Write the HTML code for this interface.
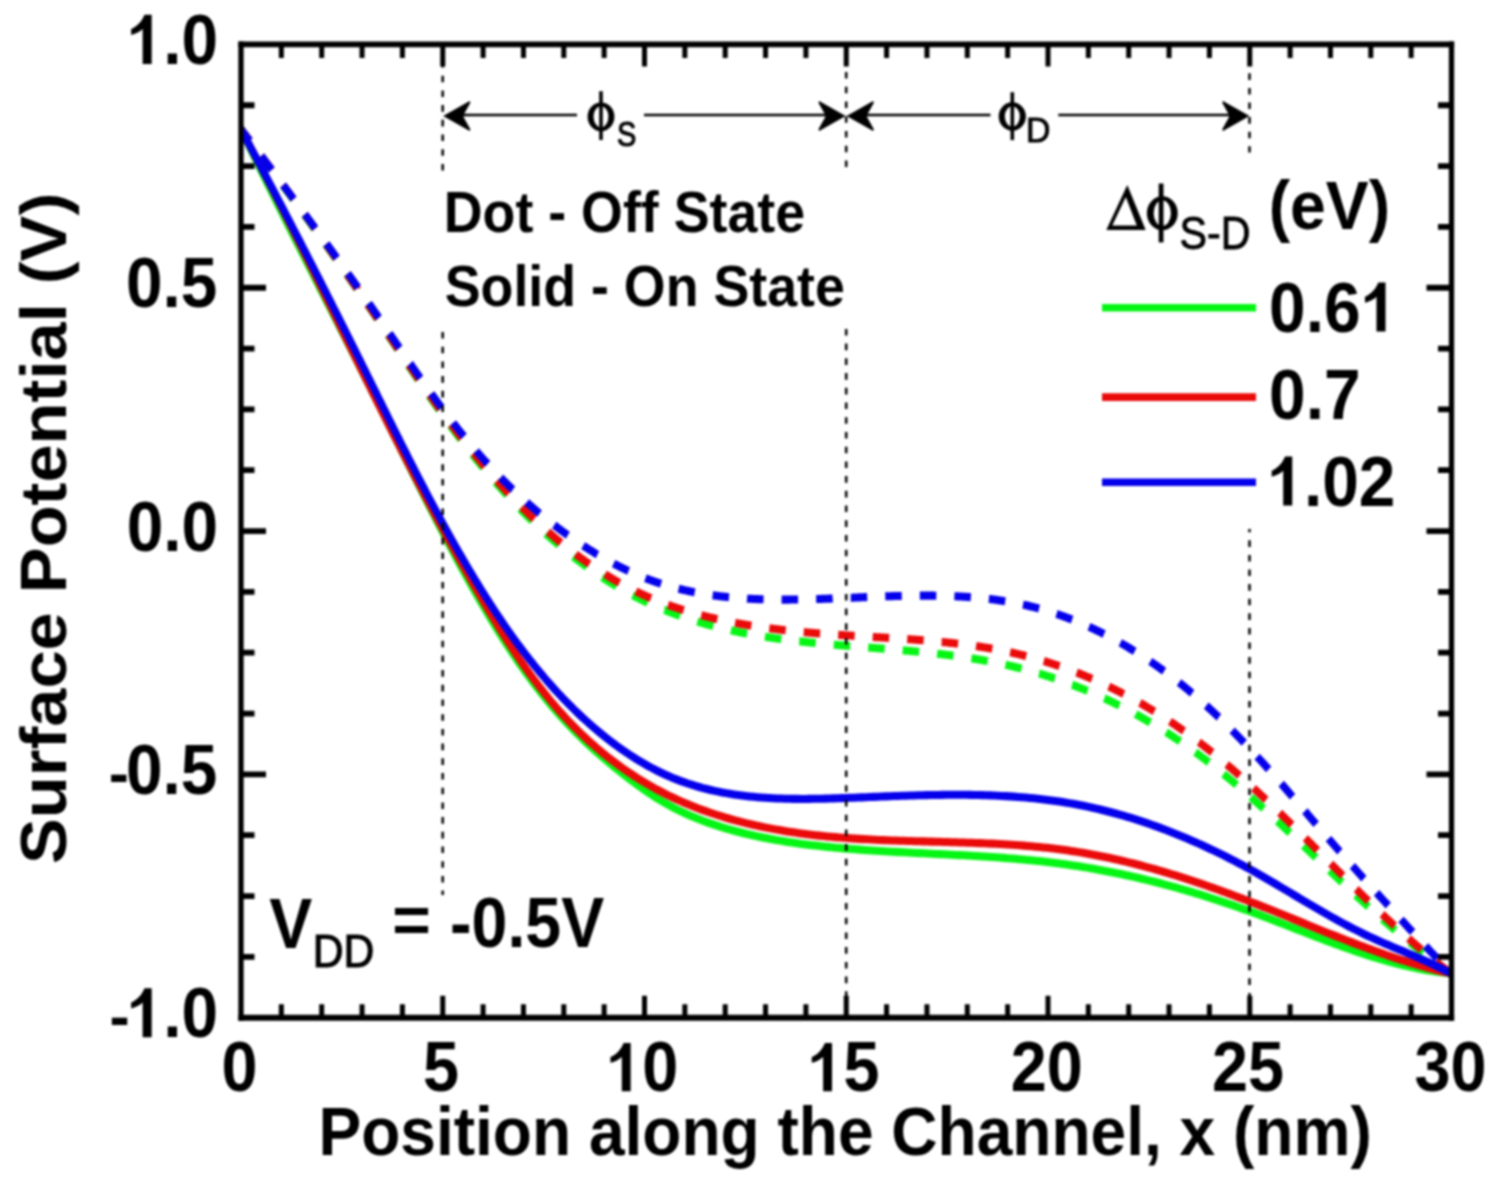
<!DOCTYPE html><html><head><meta charset="utf-8"><style>html,body{margin:0;padding:0;background:#fff;width:1500px;height:1185px;overflow:hidden}svg{display:block}#w{filter:blur(1px)}text{font-family:"Liberation Sans",sans-serif;font-weight:bold;fill:#000}</style></head><body>
<div id="w"><svg width="1500" height="1185" viewBox="0 0 1500 1185">
<rect width="1500" height="1185" fill="#fff"/>
<defs><clipPath id="pc"><rect x="241.00" y="40.73" width="1210.50" height="892.94"/></clipPath></defs>
<g transform="scale(1,1.090)" clip-path="url(#pc)">
<path d="M241.00,118.63 L241.60,119.36 L242.20,120.09 L242.80,120.82 L243.40,121.56 L244.00,122.29 L244.60,123.02 L245.21,123.76 L245.81,124.49 L246.41,125.22 L247.01,125.96 L247.61,126.69 L248.21,127.42 L248.81,128.16 L249.41,128.89 L249.67,129.21 M261.09,143.21 L261.39,143.59 L261.99,144.32 L262.59,145.06 L263.19,145.80 L263.78,146.53 L264.38,147.27 L264.98,148.01 L265.58,148.74 L266.17,149.48 L266.77,150.22 L267.37,150.95 L267.97,151.69 L268.56,152.43 L269.16,153.17 L269.76,153.90 L270.35,154.64 L270.95,155.38 L271.47,156.03 M282.80,170.11 L282.84,170.16 L283.44,170.90 L284.03,171.64 L284.62,172.38 L285.22,173.12 L285.81,173.86 L286.40,174.60 L286.99,175.34 L287.59,176.08 L288.18,176.82 L288.77,177.56 L289.36,178.30 L289.95,179.04 L290.55,179.79 L291.14,180.53 L291.73,181.27 L292.32,182.01 L292.91,182.75 L293.10,183.00 M304.33,197.16 L304.69,197.61 L305.28,198.36 L305.87,199.10 L306.45,199.85 L307.04,200.59 L307.63,201.34 L308.21,202.08 L308.80,202.83 L309.38,203.57 L309.97,204.32 L310.56,205.06 L311.14,205.81 L311.73,206.55 L312.31,207.30 L312.90,208.04 L313.48,208.79 L314.07,209.54 L314.53,210.13 M325.64,224.38 L325.71,224.48 L326.29,225.23 L326.87,225.98 L327.45,226.73 L328.03,227.48 L328.61,228.23 L329.19,228.98 L329.77,229.73 L330.35,230.48 L330.93,231.22 L331.51,231.97 L332.08,232.72 L332.66,233.47 L333.24,234.22 L333.82,234.97 L334.39,235.72 L334.97,236.48 L335.55,237.23 L335.72,237.45 M346.69,251.80 L347.03,252.26 L347.60,253.02 L348.18,253.77 L348.75,254.52 L349.32,255.28 L349.89,256.03 L350.46,256.78 L351.03,257.54 L351.60,258.29 L352.17,259.05 L352.74,259.80 L353.31,260.55 L353.88,261.31 L354.45,262.06 L355.02,262.82 L355.58,263.57 L356.15,264.33 L356.63,264.97 M367.45,279.45 L367.46,279.46 L368.02,280.22 L368.58,280.97 L369.14,281.73 L369.71,282.49 L370.27,283.25 L370.83,284.01 L371.39,284.76 L371.95,285.52 L372.51,286.28 L373.07,287.04 L373.63,287.80 L374.19,288.56 L374.75,289.32 L375.31,290.08 L375.86,290.84 L376.42,291.60 L376.98,292.36 L377.25,292.72 M387.91,307.31 L388.11,307.57 L388.66,308.33 L389.22,309.09 L389.77,309.85 L390.33,310.61 L390.88,311.38 L391.43,312.14 L391.99,312.90 L392.54,313.66 L393.10,314.42 L393.65,315.18 L394.21,315.94 L394.76,316.70 L395.32,317.46 L395.87,318.22 L396.43,318.99 L396.98,319.75 L397.54,320.51 L397.63,320.64 M408.30,335.23 L408.65,335.71 L409.21,336.47 L409.77,337.23 L410.33,337.98 L410.88,338.74 L411.44,339.50 L412.00,340.26 L412.56,341.02 L413.12,341.78 L413.68,342.53 L414.24,343.29 L414.80,344.05 L415.36,344.81 L415.92,345.56 L416.48,346.32 L417.04,347.08 L417.60,347.83 L418.10,348.50 M428.94,362.96 L429.48,363.67 L430.05,364.42 L430.62,365.17 L431.19,365.92 L431.76,366.67 L432.33,367.42 L432.91,368.17 L433.48,368.92 L434.05,369.67 L434.63,370.42 L435.20,371.17 L435.78,371.92 L436.35,372.67 L436.93,373.41 L437.51,374.16 L438.08,374.91 L438.66,375.66 L438.97,376.06 M450.16,390.25 L450.37,390.51 L450.96,391.25 L451.55,391.99 L452.15,392.73 L452.74,393.46 L453.34,394.20 L453.93,394.94 L454.53,395.67 L455.13,396.41 L455.73,397.14 L456.33,397.88 L456.93,398.61 L457.53,399.35 L458.13,400.08 L458.73,400.81 L459.34,401.54 L459.94,402.28 L460.55,403.01 L460.58,403.04 M472.25,416.83 L472.85,417.53 L473.48,418.25 L474.10,418.96 L474.73,419.68 L475.36,420.40 L475.99,421.12 L476.62,421.84 L477.25,422.55 L477.89,423.27 L478.52,423.99 L479.16,424.70 L479.79,425.41 L480.43,426.13 L481.07,426.84 L481.71,427.55 L482.35,428.26 L482.99,428.98 L483.19,429.19 M495.48,442.43 L496.06,443.05 L496.73,443.74 L497.39,444.44 L498.06,445.13 L498.73,445.82 L499.40,446.52 L500.07,447.21 L500.75,447.90 L501.42,448.59 L502.09,449.28 L502.77,449.96 L503.45,450.65 L504.12,451.34 L504.80,452.02 L505.48,452.71 L506.16,453.39 L506.85,454.07 L507.01,454.23 M519.99,466.80 L520.03,466.84 L520.74,467.51 L521.45,468.17 L522.15,468.83 L522.86,469.48 L523.57,470.14 L524.28,470.80 L525.00,471.45 L525.71,472.11 L526.43,472.76 L527.14,473.41 L527.86,474.06 L528.58,474.71 L529.30,475.36 L530.02,476.00 L530.74,476.65 L531.46,477.29 L532.18,477.93 M545.90,489.68 L546.17,489.91 L546.92,490.52 L547.66,491.14 L548.41,491.75 L549.17,492.36 L549.92,492.97 L550.67,493.58 L551.43,494.19 L552.18,494.80 L552.94,495.40 L553.70,496.01 L554.46,496.61 L555.22,497.21 L555.98,497.81 L556.74,498.41 L557.51,499.00 L558.27,499.60 L558.78,499.99 M573.29,510.77 L573.83,511.15 L574.62,511.71 L575.41,512.27 L576.21,512.83 L577.00,513.39 L577.80,513.94 L578.59,514.49 L579.39,515.04 L580.19,515.59 L580.99,516.14 L581.79,516.68 L582.59,517.23 L583.40,517.77 L584.20,518.31 L585.01,518.85 L585.82,519.38 L586.63,519.92 L586.90,520.09 M602.20,529.70 L602.22,529.71 L603.06,530.21 L603.89,530.70 L604.73,531.20 L605.57,531.69 L606.40,532.17 L607.24,532.66 L608.08,533.15 L608.92,533.63 L609.77,534.11 L610.61,534.59 L611.46,535.06 L612.30,535.54 L613.15,536.01 L614.00,536.48 L614.85,536.95 L615.70,537.41 L616.54,537.86 M632.62,546.09 L633.00,546.27 L633.88,546.69 L634.76,547.11 L635.64,547.52 L636.52,547.94 L637.40,548.35 L638.29,548.76 L639.17,549.16 L640.06,549.56 L640.95,549.97 L641.84,550.36 L642.73,550.76 L643.62,551.16 L644.51,551.55 L645.41,551.94 L646.30,552.32 L647.20,552.71 L647.65,552.90 M664.44,559.58 L664.46,559.58 L665.38,559.92 L666.30,560.26 L667.22,560.59 L668.15,560.93 L669.07,561.26 L669.99,561.59 L670.92,561.91 L671.85,562.24 L672.78,562.56 L673.70,562.88 L674.63,563.19 L675.57,563.51 L676.50,563.82 L677.43,564.13 L678.36,564.44 L679.30,564.75 L680.03,564.99 M697.33,570.20 L698.19,570.44 L699.14,570.71 L700.10,570.97 L701.05,571.23 L702.01,571.48 L702.97,571.74 L703.92,571.99 L704.88,572.24 L705.84,572.49 L706.80,572.74 L707.76,572.99 L708.72,573.23 L709.68,573.47 L710.65,573.71 L711.61,573.95 L712.57,574.18 L713.29,574.36 M730.93,578.29 L731.01,578.31 L731.99,578.50 L732.96,578.70 L733.94,578.90 L734.92,579.09 L735.90,579.28 L736.87,579.47 L737.85,579.66 L738.83,579.84 L739.81,580.03 L740.79,580.21 L741.78,580.39 L742.76,580.57 L743.74,580.75 L744.72,580.92 L745.71,581.10 L746.69,581.27 L747.14,581.35 M764.99,584.17 L765.45,584.24 L766.44,584.38 L767.44,584.52 L768.43,584.66 L769.42,584.80 L770.41,584.93 L771.41,585.07 L772.40,585.20 L773.39,585.33 L774.39,585.46 L775.38,585.59 L776.37,585.72 L777.37,585.85 L778.36,585.97 L779.36,586.10 L780.35,586.22 L781.35,586.34 M799.30,588.36 L799.31,588.36 L800.31,588.46 L801.31,588.56 L802.31,588.67 L803.32,588.77 L804.32,588.86 L805.32,588.96 L806.32,589.06 L807.32,589.16 L808.32,589.25 L809.32,589.35 L810.32,589.44 L811.32,589.54 L812.33,589.63 L813.33,589.72 L814.33,589.81 L815.33,589.90 L815.73,589.94 M833.73,591.46 L834.38,591.51 L835.39,591.59 L836.39,591.67 L837.39,591.75 L838.40,591.83 L839.40,591.91 L840.41,591.98 L841.41,592.06 L842.41,592.14 L843.42,592.22 L844.42,592.29 L845.42,592.37 L846.43,592.44 L847.43,592.52 L848.44,592.59 L849.44,592.67 L850.19,592.72 M868.21,594.04 L868.51,594.06 L869.52,594.13 L870.52,594.21 L871.52,594.28 L872.53,594.35 L873.53,594.42 L874.54,594.50 L875.54,594.57 L876.54,594.64 L877.55,594.71 L878.55,594.79 L879.55,594.86 L880.55,594.93 L881.56,595.01 L882.56,595.08 L883.56,595.16 L884.57,595.23 L884.66,595.24 M902.68,596.62 L903.60,596.70 L904.60,596.78 L905.60,596.86 L906.60,596.94 L907.60,597.02 L908.60,597.11 L909.60,597.19 L910.60,597.27 L911.60,597.36 L912.60,597.44 L913.60,597.53 L914.59,597.62 L915.59,597.70 L916.59,597.79 L917.59,597.88 L918.59,597.97 L919.12,598.02 M937.11,599.75 L937.52,599.80 L938.51,599.90 L939.51,600.01 L940.50,600.11 L941.49,600.22 L942.49,600.33 L943.48,600.44 L944.47,600.55 L945.46,600.66 L946.46,600.77 L947.45,600.88 L948.44,601.00 L949.43,601.11 L950.42,601.23 L951.41,601.35 L952.40,601.47 L953.39,601.59 L953.50,601.60 M971.42,603.98 L972.16,604.09 L973.14,604.23 L974.12,604.38 L975.11,604.52 L976.09,604.67 L977.07,604.82 L978.06,604.97 L979.04,605.13 L980.02,605.28 L981.00,605.44 L981.98,605.59 L982.96,605.75 L983.95,605.91 L984.93,606.07 L985.91,606.24 L986.89,606.40 L987.72,606.54 M1005.48,609.86 L1006.39,610.04 L1007.36,610.24 L1008.34,610.44 L1009.31,610.65 L1010.28,610.85 L1011.25,611.06 L1012.21,611.27 L1013.18,611.48 L1014.15,611.70 L1015.12,611.91 L1016.09,612.13 L1017.05,612.35 L1018.02,612.57 L1018.98,612.79 L1019.95,613.02 L1020.91,613.24 L1021.59,613.40 M1039.09,617.90 L1039.16,617.91 L1040.11,618.18 L1041.06,618.44 L1042.02,618.71 L1042.97,618.98 L1043.92,619.25 L1044.88,619.53 L1045.83,619.80 L1046.78,620.08 L1047.73,620.36 L1048.68,620.64 L1049.63,620.92 L1050.58,621.21 L1051.52,621.50 L1052.47,621.78 L1053.42,622.07 L1054.36,622.37 L1054.93,622.54 M1072.08,628.21 L1072.22,628.25 L1073.16,628.58 L1074.09,628.91 L1075.02,629.24 L1075.95,629.57 L1076.88,629.91 L1077.81,630.25 L1078.74,630.58 L1079.67,630.92 L1080.60,631.26 L1081.53,631.61 L1082.45,631.95 L1083.38,632.30 L1084.31,632.65 L1085.23,633.00 L1086.15,633.35 L1087.08,633.70 L1087.57,633.89 M1104.32,640.67 L1104.47,640.73 L1105.38,641.12 L1106.28,641.51 L1107.19,641.90 L1108.09,642.29 L1109.00,642.68 L1109.90,643.08 L1110.80,643.47 L1111.71,643.87 L1112.61,644.27 L1113.51,644.67 L1114.41,645.07 L1115.30,645.48 L1116.20,645.89 L1117.10,646.29 L1117.99,646.70 L1118.89,647.11 L1119.41,647.35 M1135.69,655.20 L1135.72,655.22 L1136.60,655.66 L1137.48,656.10 L1138.35,656.55 L1139.23,656.99 L1140.10,657.44 L1140.97,657.89 L1141.84,658.34 L1142.71,658.79 L1143.58,659.25 L1144.45,659.70 L1145.32,660.16 L1146.19,660.62 L1147.05,661.08 L1147.92,661.54 L1148.78,662.00 L1149.64,662.47 L1150.31,662.83 M1166.06,671.70 L1166.68,672.06 L1167.52,672.55 L1168.36,673.05 L1169.19,673.55 L1170.03,674.05 L1170.87,674.55 L1171.70,675.05 L1172.54,675.55 L1173.37,676.06 L1174.20,676.56 L1175.03,677.07 L1175.86,677.58 L1176.69,678.09 L1177.52,678.60 L1178.35,679.11 L1179.17,679.62 L1180.00,680.14 L1180.17,680.25 M1195.32,690.09 L1195.46,690.18 L1196.26,690.72 L1197.07,691.26 L1197.87,691.80 L1198.67,692.35 L1199.47,692.89 L1200.27,693.44 L1201.07,693.99 L1201.87,694.54 L1202.66,695.09 L1203.46,695.64 L1204.25,696.19 L1205.05,696.74 L1205.84,697.30 L1206.63,697.85 L1207.42,698.41 L1208.21,698.97 L1208.91,699.46 M1223.52,710.09 L1223.85,710.34 L1224.62,710.91 L1225.39,711.49 L1226.17,712.07 L1226.94,712.66 L1227.71,713.24 L1228.48,713.82 L1229.25,714.40 L1230.02,714.99 L1230.78,715.58 L1231.55,716.16 L1232.32,716.75 L1233.08,717.34 L1233.85,717.93 L1234.61,718.52 L1235.38,719.11 L1236.14,719.70 L1236.64,720.09 M1250.80,731.31 L1251.27,731.69 L1252.02,732.30 L1252.77,732.91 L1253.52,733.52 L1254.27,734.12 L1255.02,734.73 L1255.77,735.34 L1256.51,735.96 L1257.26,736.57 L1258.01,737.18 L1258.75,737.79 L1259.50,738.40 L1260.25,739.02 L1260.99,739.63 L1261.73,740.25 L1262.48,740.86 L1263.22,741.48 L1263.57,741.77 M1277.40,753.39 L1278.01,753.90 L1278.74,754.53 L1279.48,755.16 L1280.21,755.78 L1280.95,756.41 L1281.68,757.04 L1282.42,757.66 L1283.15,758.29 L1283.88,758.92 L1284.62,759.55 L1285.35,760.18 L1286.08,760.81 L1286.82,761.44 L1287.55,762.07 L1288.28,762.70 L1289.01,763.33 L1289.74,763.96 L1289.93,764.12 M1303.58,775.96 L1303.61,775.99 L1304.34,776.62 L1305.07,777.26 L1305.79,777.89 L1306.52,778.53 L1307.25,779.16 L1307.98,779.80 L1308.70,780.43 L1309.43,781.07 L1310.16,781.71 L1310.89,782.34 L1311.62,782.98 L1312.34,783.61 L1313.07,784.25 L1313.80,784.88 L1314.53,785.52 L1315.25,786.16 L1315.98,786.79 L1316.01,786.82 M1329.62,798.70 L1329.81,798.87 L1330.54,799.50 L1331.27,800.14 L1331.99,800.77 L1332.72,801.41 L1333.45,802.04 L1334.18,802.67 L1334.91,803.31 L1335.64,803.94 L1336.37,804.58 L1337.10,805.21 L1337.83,805.84 L1338.56,806.47 L1339.29,807.11 L1340.02,807.74 L1340.75,808.37 L1341.48,809.00 L1342.08,809.52 M1355.80,821.28 L1356.15,821.57 L1356.89,822.20 L1357.62,822.82 L1358.36,823.45 L1359.10,824.07 L1359.83,824.69 L1360.57,825.32 L1361.31,825.94 L1362.05,826.56 L1362.79,827.18 L1363.53,827.80 L1364.27,828.42 L1365.01,829.04 L1365.75,829.66 L1366.49,830.28 L1367.23,830.90 L1367.97,831.52 L1368.43,831.90 M1382.41,843.35 L1382.91,843.76 L1383.66,844.36 L1384.41,844.97 L1385.17,845.57 L1385.92,846.18 L1386.67,846.78 L1387.43,847.38 L1388.18,847.98 L1388.94,848.58 L1389.70,849.18 L1390.45,849.78 L1391.21,850.38 L1391.97,850.98 L1392.73,851.57 L1393.49,852.17 L1394.25,852.77 L1395.01,853.36 L1395.33,853.61 M1409.69,864.57 L1410.37,865.08 L1411.14,865.65 L1411.92,866.23 L1412.69,866.80 L1413.47,867.38 L1414.25,867.95 L1415.03,868.52 L1415.81,869.09 L1416.59,869.66 L1417.37,870.23 L1418.15,870.80 L1418.94,871.36 L1419.72,871.93 L1420.51,872.49 L1421.29,873.06 L1422.08,873.62 L1422.87,874.18 L1423.03,874.29 M1437.89,884.57 L1437.99,884.64 L1438.80,885.18 L1439.61,885.72 L1440.41,886.25 L1441.22,886.79 L1442.03,887.32 L1442.84,887.86 L1443.65,888.39 L1444.47,888.92 L1445.28,889.45 L1446.09,889.97 L1446.91,890.50 L1447.72,891.03 L1448.54,891.55 L1449.36,892.07 L1450.18,892.59 L1451.00,893.11" fill="none" stroke="#05f514" stroke-width="7.4" stroke-linejoin="round"/>
<path d="M240.99,118.63 L241.61,119.36 L242.22,120.08 L242.84,120.81 L243.45,121.54 L244.07,122.27 L244.68,123.00 L245.29,123.73 L245.91,124.46 L246.52,125.19 L247.13,125.92 L247.75,126.65 L248.36,127.38 L248.97,128.11 L249.58,128.84 L249.80,129.10 M261.34,143.00 L261.74,143.48 L262.35,144.21 L262.95,144.95 L263.56,145.68 L264.16,146.41 L264.77,147.15 L265.37,147.88 L265.97,148.62 L266.58,149.35 L267.18,150.08 L267.78,150.82 L268.38,151.55 L268.98,152.29 L269.59,153.02 L270.19,153.76 L270.79,154.49 L271.39,155.23 L271.81,155.75 M283.20,169.78 L283.34,169.96 L283.94,170.70 L284.53,171.44 L285.13,172.18 L285.72,172.91 L286.32,173.65 L286.91,174.39 L287.50,175.13 L288.10,175.87 L288.69,176.61 L289.28,177.35 L289.87,178.09 L290.46,178.83 L291.06,179.57 L291.65,180.31 L292.24,181.05 L292.83,181.79 L293.42,182.53 L293.52,182.65 M304.75,196.81 L305.18,197.35 L305.76,198.10 L306.35,198.84 L306.93,199.58 L307.52,200.33 L308.10,201.07 L308.69,201.81 L309.27,202.56 L309.85,203.30 L310.44,204.04 L311.02,204.79 L311.60,205.53 L312.19,206.28 L312.77,207.02 L313.35,207.77 L313.93,208.51 L314.51,209.26 L314.93,209.79 M326.01,224.07 L326.10,224.18 L326.67,224.92 L327.25,225.67 L327.82,226.42 L328.40,227.17 L328.98,227.91 L329.55,228.66 L330.13,229.41 L330.70,230.16 L331.28,230.91 L331.85,231.65 L332.43,232.40 L333.00,233.15 L333.57,233.90 L334.15,234.65 L334.72,235.40 L335.30,236.15 L335.87,236.90 L336.06,237.15 M347.00,251.54 L347.29,251.91 L347.86,252.66 L348.42,253.41 L348.99,254.17 L349.56,254.92 L350.13,255.67 L350.70,256.42 L351.26,257.18 L351.83,257.93 L352.40,258.68 L352.96,259.44 L353.53,260.19 L354.10,260.94 L354.66,261.70 L355.23,262.45 L355.80,263.20 L356.36,263.96 L356.93,264.71 L356.93,264.72 M367.74,279.20 L368.20,279.81 L368.76,280.57 L369.32,281.33 L369.88,282.08 L370.44,282.84 L371.00,283.60 L371.56,284.35 L372.12,285.11 L372.69,285.87 L373.25,286.63 L373.81,287.38 L374.37,288.14 L374.92,288.90 L375.48,289.66 L376.04,290.41 L376.60,291.17 L377.16,291.93 L377.55,292.46 M388.26,307.02 L388.33,307.10 L388.89,307.86 L389.44,308.62 L390.00,309.38 L390.56,310.14 L391.12,310.90 L391.68,311.66 L392.24,312.42 L392.79,313.18 L393.35,313.94 L393.91,314.69 L394.47,315.45 L395.03,316.21 L395.59,316.97 L396.15,317.73 L396.71,318.49 L397.26,319.25 L397.82,320.01 L398.04,320.30 M408.80,334.82 L409.05,335.16 L409.61,335.92 L410.18,336.67 L410.74,337.43 L411.31,338.18 L411.87,338.94 L412.44,339.70 L413.00,340.45 L413.57,341.21 L414.13,341.96 L414.70,342.72 L415.27,343.47 L415.83,344.23 L416.40,344.98 L416.97,345.74 L417.54,346.49 L418.11,347.24 L418.68,348.00 L418.70,348.03 M429.66,362.39 L430.15,363.02 L430.73,363.77 L431.31,364.52 L431.89,365.27 L432.47,366.01 L433.05,366.76 L433.63,367.51 L434.21,368.25 L434.79,369.00 L435.38,369.75 L435.96,370.49 L436.55,371.24 L437.13,371.98 L437.72,372.73 L438.30,373.47 L438.89,374.21 L439.48,374.96 L439.82,375.39 M451.15,389.47 L451.38,389.75 L451.98,390.48 L452.58,391.22 L453.19,391.95 L453.79,392.69 L454.40,393.42 L455.00,394.15 L455.61,394.89 L456.22,395.62 L456.83,396.35 L457.44,397.08 L458.05,397.81 L458.66,398.54 L459.27,399.27 L459.89,400.00 L460.50,400.73 L461.12,401.46 L461.70,402.15 M473.53,415.82 L473.62,415.92 L474.25,416.63 L474.89,417.35 L475.53,418.07 L476.16,418.78 L476.80,419.50 L477.45,420.21 L478.09,420.92 L478.73,421.64 L479.37,422.35 L480.02,423.06 L480.66,423.77 L481.31,424.48 L481.96,425.19 L482.61,425.90 L483.26,426.61 L483.91,427.32 L484.56,428.02 L484.59,428.05 M497.03,441.16 L497.18,441.32 L497.85,442.01 L498.53,442.70 L499.21,443.39 L499.89,444.08 L500.57,444.77 L501.25,445.46 L501.93,446.14 L502.61,446.83 L503.29,447.51 L503.98,448.20 L504.67,448.88 L505.35,449.56 L506.04,450.24 L506.73,450.92 L507.42,451.60 L508.11,452.28 L508.69,452.84 M521.81,465.26 L522.19,465.61 L522.91,466.27 L523.62,466.92 L524.34,467.58 L525.06,468.23 L525.78,468.88 L526.50,469.53 L527.22,470.17 L527.95,470.82 L528.67,471.46 L529.40,472.11 L530.13,472.75 L530.85,473.39 L531.58,474.03 L532.31,474.67 L533.05,475.31 L533.78,475.94 L534.12,476.24 M547.99,487.82 L548.68,488.37 L549.44,488.98 L550.19,489.58 L550.95,490.19 L551.71,490.79 L552.48,491.39 L553.24,491.99 L554.00,492.58 L554.77,493.18 L555.54,493.77 L556.30,494.36 L557.07,494.95 L557.84,495.54 L558.61,496.13 L559.39,496.72 L560.16,497.30 L560.93,497.88 L561.02,497.95 M575.69,508.49 L575.88,508.62 L576.67,509.17 L577.47,509.71 L578.27,510.26 L579.08,510.80 L579.88,511.34 L580.68,511.88 L581.49,512.41 L582.30,512.95 L583.10,513.48 L583.91,514.01 L584.72,514.54 L585.53,515.06 L586.35,515.59 L587.16,516.11 L587.97,516.63 L588.79,517.15 L589.47,517.58 M604.96,526.87 L605.36,527.09 L606.20,527.57 L607.05,528.04 L607.89,528.51 L608.73,528.98 L609.58,529.45 L610.43,529.91 L611.28,530.37 L612.13,530.83 L612.98,531.29 L613.83,531.75 L614.68,532.20 L615.54,532.65 L616.39,533.10 L617.25,533.54 L618.11,533.99 L618.97,534.43 L619.49,534.69 M635.79,542.48 L636.41,542.76 L637.29,543.15 L638.18,543.54 L639.07,543.92 L639.96,544.31 L640.85,544.69 L641.74,545.07 L642.63,545.44 L643.52,545.82 L644.42,546.19 L645.31,546.56 L646.21,546.92 L647.11,547.28 L648.01,547.64 L648.91,548.00 L649.81,548.36 L650.71,548.71 L651.02,548.83 M668.02,554.94 L668.09,554.96 L669.02,555.26 L669.94,555.57 L670.87,555.87 L671.80,556.17 L672.73,556.46 L673.66,556.76 L674.59,557.05 L675.52,557.34 L676.46,557.63 L677.39,557.91 L678.33,558.19 L679.26,558.48 L680.20,558.75 L681.14,559.03 L682.08,559.30 L683.02,559.58 L683.79,559.80 M701.26,564.41 L702.01,564.59 L702.97,564.82 L703.93,565.05 L704.89,565.27 L705.85,565.50 L706.82,565.72 L707.78,565.94 L708.74,566.16 L709.71,566.37 L710.67,566.59 L711.64,566.80 L712.60,567.01 L713.57,567.22 L714.54,567.43 L715.51,567.63 L716.48,567.84 L717.36,568.02 M735.11,571.40 L736.01,571.55 L736.99,571.72 L737.98,571.89 L738.96,572.05 L739.94,572.22 L740.93,572.38 L741.92,572.54 L742.90,572.70 L743.89,572.86 L744.88,573.01 L745.86,573.17 L746.85,573.32 L747.84,573.47 L748.83,573.62 L749.82,573.77 L750.81,573.92 L751.40,574.01 M769.31,576.41 L769.72,576.46 L770.72,576.58 L771.72,576.70 L772.72,576.82 L773.72,576.94 L774.72,577.06 L775.72,577.17 L776.72,577.28 L777.72,577.40 L778.72,577.51 L779.73,577.62 L780.73,577.73 L781.73,577.84 L782.74,577.94 L783.74,578.05 L784.74,578.15 L785.71,578.25 M803.70,579.93 L803.85,579.94 L804.86,580.03 L805.87,580.11 L806.88,580.20 L807.88,580.28 L808.89,580.36 L809.90,580.44 L810.91,580.52 L811.92,580.60 L812.92,580.68 L813.93,580.75 L814.94,580.83 L815.95,580.91 L816.96,580.98 L817.97,581.05 L818.98,581.13 L819.99,581.20 L820.15,581.21 M838.18,582.40 L839.17,582.46 L840.18,582.52 L841.19,582.58 L842.20,582.64 L843.20,582.70 L844.21,582.76 L845.22,582.82 L846.23,582.88 L847.24,582.94 L848.25,583.00 L849.26,583.06 L850.27,583.11 L851.28,583.17 L852.29,583.23 L853.30,583.28 L854.31,583.34 L854.65,583.36 M872.70,584.34 L873.48,584.39 L874.49,584.44 L875.50,584.50 L876.51,584.55 L877.52,584.61 L878.52,584.66 L879.53,584.72 L880.54,584.77 L881.55,584.83 L882.55,584.88 L883.56,584.94 L884.57,584.99 L885.58,585.05 L886.58,585.10 L887.59,585.16 L888.60,585.22 L889.17,585.25 M907.21,586.33 L907.70,586.36 L908.70,586.42 L909.71,586.49 L910.71,586.55 L911.71,586.62 L912.72,586.69 L913.72,586.75 L914.72,586.82 L915.72,586.89 L916.72,586.96 L917.73,587.03 L918.73,587.10 L919.73,587.17 L920.73,587.24 L921.73,587.32 L922.73,587.39 L923.67,587.46 M941.68,588.93 L941.70,588.93 L942.70,589.02 L943.69,589.12 L944.69,589.21 L945.68,589.30 L946.68,589.40 L947.67,589.49 L948.67,589.59 L949.66,589.69 L950.65,589.79 L951.65,589.89 L952.64,589.99 L953.63,590.09 L954.62,590.19 L955.61,590.30 L956.61,590.41 L957.60,590.51 L958.10,590.57 M976.03,592.75 L976.36,592.80 L977.35,592.93 L978.33,593.07 L979.31,593.21 L980.30,593.35 L981.28,593.49 L982.26,593.63 L983.24,593.77 L984.22,593.92 L985.21,594.06 L986.19,594.21 L987.17,594.36 L988.15,594.52 L989.13,594.67 L990.10,594.82 L991.08,594.98 L992.06,595.14 L992.35,595.19 M1010.13,598.41 L1010.56,598.49 L1011.53,598.69 L1012.50,598.89 L1013.46,599.09 L1014.43,599.29 L1015.40,599.49 L1016.36,599.70 L1017.33,599.91 L1018.30,600.12 L1019.26,600.33 L1020.23,600.54 L1021.19,600.76 L1022.15,600.98 L1023.12,601.20 L1024.08,601.42 L1025.04,601.65 L1026.00,601.87 L1026.25,601.93 M1043.74,606.46 L1044.16,606.57 L1045.11,606.84 L1046.06,607.11 L1047.01,607.38 L1047.96,607.66 L1048.91,607.93 L1049.85,608.21 L1050.80,608.49 L1051.75,608.77 L1052.69,609.06 L1053.64,609.34 L1054.58,609.63 L1055.52,609.92 L1056.47,610.21 L1057.41,610.50 L1058.35,610.80 L1059.29,611.10 L1059.55,611.18 M1076.67,616.98 L1077.03,617.11 L1077.96,617.45 L1078.89,617.79 L1079.81,618.13 L1080.74,618.47 L1081.66,618.81 L1082.58,619.16 L1083.51,619.50 L1084.43,619.85 L1085.35,620.20 L1086.27,620.55 L1087.19,620.91 L1088.11,621.26 L1089.03,621.62 L1089.94,621.98 L1090.86,622.34 L1091.78,622.71 L1092.09,622.83 M1108.76,629.82 L1109.02,629.94 L1109.92,630.34 L1110.82,630.74 L1111.71,631.14 L1112.61,631.54 L1113.51,631.95 L1114.40,632.35 L1115.30,632.76 L1116.19,633.17 L1117.08,633.58 L1117.97,634.00 L1118.86,634.41 L1119.75,634.83 L1120.64,635.25 L1121.53,635.67 L1122.42,636.09 L1123.30,636.51 L1123.74,636.72 M1139.89,644.83 L1139.97,644.87 L1140.83,645.32 L1141.70,645.78 L1142.57,646.24 L1143.43,646.70 L1144.29,647.16 L1145.16,647.62 L1146.02,648.09 L1146.88,648.56 L1147.74,649.02 L1148.60,649.49 L1149.45,649.96 L1150.31,650.44 L1151.17,650.91 L1152.02,651.39 L1152.87,651.86 L1153.73,652.34 L1154.38,652.71 M1169.96,661.86 L1170.55,662.22 L1171.38,662.73 L1172.21,663.24 L1173.04,663.76 L1173.87,664.27 L1174.69,664.79 L1175.52,665.30 L1176.34,665.82 L1177.16,666.34 L1177.98,666.86 L1178.80,667.38 L1179.62,667.90 L1180.44,668.43 L1181.26,668.95 L1182.07,669.48 L1182.89,670.01 L1183.70,670.54 L1183.91,670.68 M1198.88,680.80 L1198.96,680.85 L1199.75,681.41 L1200.55,681.96 L1201.34,682.52 L1202.13,683.08 L1202.92,683.64 L1203.71,684.20 L1204.49,684.76 L1205.28,685.33 L1206.06,685.89 L1206.85,686.46 L1207.63,687.02 L1208.42,687.59 L1209.20,688.16 L1209.98,688.73 L1210.76,689.30 L1211.54,689.87 L1212.28,690.42 M1226.69,701.33 L1226.95,701.53 L1227.71,702.12 L1228.47,702.72 L1229.23,703.31 L1229.99,703.91 L1230.75,704.51 L1231.51,705.10 L1232.27,705.70 L1233.02,706.30 L1233.78,706.90 L1234.54,707.50 L1235.29,708.11 L1236.04,708.71 L1236.80,709.31 L1237.55,709.92 L1238.30,710.52 L1239.05,711.13 L1239.62,711.59 M1253.55,723.09 L1253.94,723.42 L1254.68,724.05 L1255.42,724.67 L1256.16,725.29 L1256.89,725.92 L1257.63,726.54 L1258.36,727.17 L1259.10,727.79 L1259.83,728.42 L1260.57,729.05 L1261.30,729.68 L1262.03,730.30 L1262.77,730.93 L1263.50,731.56 L1264.23,732.19 L1264.96,732.82 L1265.69,733.46 L1266.10,733.81 M1279.68,745.73 L1280.21,746.20 L1280.93,746.84 L1281.65,747.48 L1282.37,748.13 L1283.09,748.77 L1283.81,749.41 L1284.53,750.06 L1285.25,750.70 L1285.97,751.35 L1286.69,751.99 L1287.41,752.64 L1288.13,753.28 L1288.84,753.93 L1289.56,754.58 L1290.28,755.23 L1291.00,755.87 L1291.71,756.52 L1291.96,756.74 M1305.32,768.91 L1306.00,769.53 L1306.71,770.18 L1307.42,770.84 L1308.13,771.49 L1308.85,772.14 L1309.56,772.80 L1310.27,773.45 L1310.98,774.11 L1311.69,774.76 L1312.40,775.41 L1313.11,776.07 L1313.82,776.72 L1314.53,777.38 L1315.25,778.03 L1315.96,778.68 L1316.67,779.34 L1317.38,779.99 L1317.47,780.08 M1330.75,792.33 L1330.87,792.44 L1331.58,793.09 L1332.29,793.75 L1333.00,794.40 L1333.71,795.05 L1334.42,795.71 L1335.13,796.36 L1335.84,797.02 L1336.55,797.67 L1337.26,798.32 L1337.97,798.98 L1338.68,799.63 L1339.39,800.28 L1340.10,800.94 L1340.81,801.59 L1341.52,802.24 L1342.23,802.90 L1342.89,803.50 M1356.24,815.68 L1356.49,815.90 L1357.20,816.55 L1357.92,817.20 L1358.63,817.84 L1359.35,818.49 L1360.06,819.14 L1360.78,819.78 L1361.49,820.43 L1362.21,821.07 L1362.93,821.72 L1363.64,822.36 L1364.36,823.00 L1365.08,823.65 L1365.80,824.29 L1366.52,824.93 L1367.23,825.57 L1367.95,826.22 L1368.51,826.71 M1382.07,838.65 L1382.41,838.95 L1383.13,839.58 L1383.86,840.21 L1384.59,840.84 L1385.31,841.47 L1386.04,842.09 L1386.77,842.72 L1387.50,843.35 L1388.23,843.98 L1388.96,844.60 L1389.69,845.23 L1390.42,845.85 L1391.16,846.48 L1391.89,847.10 L1392.62,847.72 L1393.35,848.35 L1394.09,848.97 L1394.60,849.40 M1408.50,860.93 L1408.88,861.24 L1409.63,861.85 L1410.38,862.45 L1411.12,863.05 L1411.87,863.66 L1412.62,864.26 L1413.37,864.86 L1414.12,865.46 L1414.87,866.06 L1415.62,866.66 L1416.37,867.26 L1417.12,867.85 L1417.88,868.45 L1418.63,869.04 L1419.39,869.64 L1420.14,870.23 L1420.90,870.82 L1421.40,871.22 M1435.78,882.16 L1436.18,882.46 L1436.95,883.03 L1437.72,883.60 L1438.50,884.16 L1439.27,884.73 L1440.05,885.30 L1440.83,885.86 L1441.60,886.43 L1442.38,886.99 L1443.16,887.55 L1443.94,888.11 L1444.72,888.67 L1445.50,889.23 L1446.29,889.79 L1447.07,890.34 L1447.86,890.90 L1448.64,891.45 L1449.16,891.82" fill="none" stroke="#ea0a0a" stroke-width="7.4" stroke-linejoin="round"/>
<path d="M241.00,118.62 L241.61,119.36 L242.21,120.09 L242.82,120.82 L243.43,121.55 L244.03,122.28 L244.64,123.01 L245.24,123.75 L245.85,124.48 L246.46,125.21 L247.06,125.94 L247.67,126.67 L248.27,127.41 L248.88,128.14 L249.48,128.87 L249.72,129.16 M261.23,143.09 L261.58,143.51 L262.18,144.24 L262.78,144.97 L263.39,145.71 L263.99,146.44 L264.60,147.17 L265.20,147.90 L265.80,148.64 L266.40,149.37 L267.01,150.10 L267.61,150.83 L268.21,151.57 L268.82,152.30 L269.42,153.03 L270.02,153.77 L270.62,154.50 L271.23,155.23 L271.72,155.83 M283.17,169.81 L283.25,169.90 L283.85,170.64 L284.45,171.37 L285.05,172.10 L285.65,172.84 L286.25,173.57 L286.84,174.31 L287.44,175.04 L288.04,175.78 L288.64,176.51 L289.24,177.25 L289.84,177.98 L290.44,178.72 L291.04,179.45 L291.63,180.19 L292.23,180.92 L292.83,181.66 L293.43,182.39 L293.60,182.60 M304.97,196.64 L305.35,197.12 L305.94,197.86 L306.54,198.59 L307.13,199.33 L307.72,200.07 L308.32,200.81 L308.91,201.54 L309.51,202.28 L310.10,203.02 L310.69,203.76 L311.28,204.50 L311.88,205.24 L312.47,205.97 L313.06,206.71 L313.65,207.45 L314.25,208.19 L314.84,208.93 L315.30,209.51 M326.56,223.64 L326.64,223.74 L327.22,224.48 L327.81,225.22 L328.40,225.97 L328.99,226.71 L329.57,227.45 L330.16,228.19 L330.75,228.94 L331.33,229.68 L331.92,230.42 L332.50,231.16 L333.09,231.91 L333.68,232.65 L334.26,233.39 L334.85,234.14 L335.43,234.88 L336.02,235.63 L336.60,236.37 L336.78,236.60 M347.89,250.84 L348.24,251.29 L348.82,252.04 L349.40,252.79 L349.98,253.54 L350.56,254.28 L351.14,255.03 L351.72,255.78 L352.30,256.53 L352.88,257.28 L353.45,258.03 L354.03,258.78 L354.61,259.53 L355.19,260.28 L355.76,261.03 L356.34,261.78 L356.92,262.53 L357.49,263.28 L357.97,263.91 M368.92,278.28 L368.96,278.34 L369.53,279.09 L370.10,279.85 L370.67,280.60 L371.24,281.36 L371.81,282.11 L372.38,282.87 L372.95,283.63 L373.52,284.38 L374.09,285.14 L374.65,285.90 L375.22,286.65 L375.79,287.41 L376.36,288.17 L376.92,288.93 L377.49,289.68 L378.06,290.44 L378.62,291.20 L378.83,291.47 M389.62,305.97 L389.93,306.39 L390.49,307.15 L391.06,307.91 L391.62,308.67 L392.18,309.43 L392.75,310.19 L393.31,310.95 L393.88,311.71 L394.44,312.47 L395.01,313.23 L395.57,313.99 L396.13,314.75 L396.70,315.51 L397.26,316.27 L397.83,317.03 L398.39,317.79 L398.96,318.55 L399.45,319.22 M410.27,333.69 L410.29,333.71 L410.86,334.47 L411.43,335.23 L412.00,335.98 L412.57,336.74 L413.14,337.49 L413.71,338.25 L414.28,339.00 L414.85,339.76 L415.43,340.51 L416.00,341.26 L416.57,342.02 L417.14,342.77 L417.72,343.52 L418.29,344.28 L418.86,345.03 L419.44,345.78 L420.01,346.53 L420.24,346.84 M431.32,361.12 L431.61,361.49 L432.19,362.23 L432.78,362.97 L433.37,363.71 L433.95,364.46 L434.54,365.20 L435.13,365.94 L435.72,366.68 L436.31,367.42 L436.90,368.16 L437.49,368.89 L438.08,369.63 L438.68,370.37 L439.27,371.11 L439.86,371.84 L440.46,372.58 L441.05,373.31 L441.62,374.01 M453.16,387.91 L453.74,388.60 L454.36,389.32 L454.97,390.04 L455.59,390.76 L456.20,391.48 L456.82,392.20 L457.44,392.92 L458.06,393.63 L458.68,394.35 L459.30,395.06 L459.92,395.78 L460.54,396.49 L461.17,397.20 L461.79,397.91 L462.42,398.62 L463.05,399.33 L463.68,400.04 L463.97,400.37 M476.17,413.71 L476.47,414.03 L477.12,414.72 L477.78,415.41 L478.43,416.10 L479.09,416.78 L479.75,417.47 L480.40,418.15 L481.06,418.84 L481.72,419.52 L482.39,420.20 L483.05,420.88 L483.71,421.56 L484.38,422.24 L485.05,422.92 L485.72,423.59 L486.39,424.27 L487.06,424.94 L487.66,425.55 M500.65,438.11 L500.75,438.20 L501.45,438.86 L502.15,439.51 L502.85,440.16 L503.55,440.80 L504.26,441.45 L504.96,442.10 L505.67,442.74 L506.38,443.38 L507.09,444.03 L507.80,444.67 L508.51,445.31 L509.22,445.95 L509.94,446.59 L510.66,447.22 L511.37,447.86 L512.09,448.49 L512.81,449.13 L512.88,449.18 M526.67,460.85 L526.76,460.93 L527.51,461.54 L528.26,462.14 L529.01,462.75 L529.77,463.36 L530.52,463.96 L531.27,464.56 L532.03,465.16 L532.79,465.76 L533.55,466.36 L534.31,466.96 L535.07,467.56 L535.84,468.15 L536.60,468.75 L537.37,469.34 L538.14,469.93 L538.91,470.52 L539.63,471.07 M554.20,481.75 L554.62,482.04 L555.42,482.60 L556.22,483.16 L557.02,483.72 L557.83,484.28 L558.64,484.84 L559.44,485.39 L560.25,485.95 L561.07,486.50 L561.88,487.05 L562.69,487.60 L563.51,488.15 L564.33,488.69 L565.15,489.24 L565.97,489.78 L566.79,490.32 L567.61,490.87 L567.85,491.02 M583.17,500.60 L583.53,500.82 L584.38,501.33 L585.24,501.83 L586.09,502.33 L586.95,502.83 L587.80,503.33 L588.66,503.83 L589.52,504.32 L590.38,504.81 L591.24,505.31 L592.11,505.79 L592.97,506.28 L593.84,506.76 L594.70,507.25 L595.57,507.73 L596.44,508.20 L597.31,508.68 L597.50,508.78 M613.57,517.03 L614.08,517.28 L614.97,517.70 L615.87,518.13 L616.77,518.55 L617.66,518.97 L618.56,519.39 L619.46,519.81 L620.36,520.22 L621.26,520.63 L622.16,521.04 L623.07,521.44 L623.97,521.84 L624.88,522.24 L625.78,522.64 L626.69,523.03 L627.60,523.42 L628.51,523.81 L628.60,523.85 M645.42,530.43 L645.97,530.63 L646.90,530.95 L647.83,531.28 L648.76,531.60 L649.69,531.92 L650.62,532.23 L651.55,532.55 L652.48,532.85 L653.42,533.16 L654.35,533.46 L655.29,533.76 L656.22,534.06 L657.16,534.35 L658.10,534.64 L659.04,534.92 L659.98,535.20 L660.92,535.48 L661.11,535.54 M678.59,540.10 L678.92,540.18 L679.87,540.39 L680.83,540.61 L681.78,540.82 L682.74,541.03 L683.70,541.23 L684.65,541.43 L685.61,541.63 L686.57,541.83 L687.53,542.02 L688.49,542.21 L689.45,542.40 L690.41,542.59 L691.38,542.77 L692.34,542.95 L693.30,543.13 L694.27,543.30 L694.76,543.39 M712.62,546.12 L712.70,546.13 L713.68,546.25 L714.66,546.38 L715.63,546.50 L716.61,546.61 L717.59,546.73 L718.57,546.84 L719.55,546.95 L720.53,547.06 L721.51,547.17 L722.49,547.27 L723.47,547.37 L724.45,547.47 L725.43,547.57 L726.42,547.66 L727.40,547.76 L728.38,547.85 L729.02,547.91 M747.04,549.19 L747.16,549.20 L748.15,549.25 L749.15,549.30 L750.14,549.35 L751.13,549.40 L752.13,549.44 L753.12,549.49 L754.12,549.53 L755.11,549.57 L756.11,549.61 L757.11,549.65 L758.10,549.68 L759.10,549.72 L760.10,549.75 L761.09,549.78 L762.09,549.81 L763.09,549.84 L763.53,549.85 M781.60,550.10 L782.12,550.11 L783.12,550.11 L784.13,550.11 L785.13,550.11 L786.14,550.10 L787.14,550.10 L788.15,550.10 L789.15,550.09 L790.16,550.08 L791.16,550.08 L792.17,550.07 L793.18,550.06 L794.18,550.05 L795.19,550.04 L796.20,550.02 L797.21,550.01 L798.10,550.00 M816.16,549.60 L816.39,549.60 L817.40,549.57 L818.41,549.54 L819.42,549.51 L820.43,549.48 L821.44,549.45 L822.45,549.42 L823.46,549.39 L824.48,549.35 L825.49,549.32 L826.50,549.29 L827.51,549.25 L828.52,549.22 L829.54,549.18 L830.55,549.15 L831.56,549.11 L832.57,549.08 L832.66,549.07 M850.71,548.39 L850.80,548.39 L851.82,548.35 L852.83,548.31 L853.84,548.27 L854.86,548.23 L855.87,548.19 L856.88,548.15 L857.90,548.11 L858.91,548.07 L859.92,548.03 L860.94,547.99 L861.95,547.96 L862.96,547.92 L863.97,547.88 L864.99,547.84 L866.00,547.80 L867.01,547.76 L867.20,547.75 M885.26,547.12 L886.24,547.09 L887.25,547.06 L888.27,547.03 L889.28,547.00 L890.29,546.97 L891.30,546.94 L892.31,546.91 L893.32,546.88 L894.33,546.86 L895.34,546.83 L896.35,546.81 L897.36,546.78 L898.37,546.76 L899.38,546.73 L900.39,546.71 L901.40,546.69 L901.75,546.68 M919.82,546.43 L920.54,546.43 L921.54,546.42 L922.55,546.42 L923.55,546.42 L924.56,546.42 L925.56,546.42 L926.57,546.42 L927.57,546.42 L928.58,546.43 L929.58,546.43 L930.58,546.44 L931.58,546.45 L932.59,546.45 L933.59,546.46 L934.59,546.48 L935.59,546.49 L936.32,546.50 M954.38,546.99 L954.57,547.00 L955.57,547.04 L956.56,547.08 L957.56,547.13 L958.55,547.17 L959.54,547.22 L960.54,547.27 L961.53,547.32 L962.52,547.38 L963.52,547.43 L964.51,547.49 L965.50,547.55 L966.49,547.61 L967.48,547.67 L968.47,547.73 L969.47,547.80 L970.46,547.87 L970.86,547.90 M988.86,549.50 L989.18,549.53 L990.17,549.64 L991.15,549.75 L992.13,549.87 L993.11,549.98 L994.09,550.10 L995.07,550.22 L996.04,550.34 L997.02,550.46 L998.00,550.59 L998.98,550.72 L999.95,550.85 L1000.93,550.98 L1001.90,551.12 L1002.88,551.26 L1003.85,551.40 L1004.83,551.54 L1005.22,551.60 M1023.02,554.70 L1023.23,554.74 L1024.19,554.94 L1025.16,555.14 L1026.12,555.34 L1027.08,555.54 L1028.04,555.75 L1029.00,555.95 L1029.96,556.17 L1030.92,556.38 L1031.88,556.60 L1032.83,556.82 L1033.79,557.04 L1034.75,557.27 L1035.70,557.50 L1036.66,557.73 L1037.61,557.96 L1038.56,558.20 L1039.11,558.34 M1056.50,563.23 L1056.56,563.25 L1057.50,563.54 L1058.44,563.84 L1059.38,564.14 L1060.31,564.44 L1061.25,564.74 L1062.19,565.05 L1063.12,565.36 L1064.06,565.67 L1064.99,565.98 L1065.92,566.30 L1066.86,566.62 L1067.79,566.94 L1068.72,567.27 L1069.65,567.59 L1070.58,567.92 L1071.50,568.26 L1072.14,568.49 M1088.98,575.04 L1089.89,575.42 L1090.80,575.80 L1091.71,576.19 L1092.62,576.58 L1093.53,576.97 L1094.44,577.36 L1095.34,577.75 L1096.25,578.15 L1097.15,578.55 L1098.05,578.95 L1098.95,579.35 L1099.85,579.76 L1100.75,580.17 L1101.65,580.58 L1102.55,580.99 L1103.45,581.41 L1104.08,581.70 M1120.28,589.69 L1120.30,589.70 L1121.18,590.15 L1122.05,590.61 L1122.93,591.07 L1123.80,591.54 L1124.67,592.00 L1125.54,592.47 L1126.41,592.94 L1127.28,593.41 L1128.15,593.88 L1129.01,594.35 L1129.88,594.83 L1130.74,595.31 L1131.61,595.79 L1132.47,596.27 L1133.33,596.76 L1134.19,597.24 L1134.78,597.57 M1150.30,606.81 L1150.30,606.81 L1151.14,607.34 L1151.98,607.86 L1152.81,608.38 L1153.64,608.91 L1154.47,609.44 L1155.30,609.97 L1156.13,610.50 L1156.96,611.03 L1157.78,611.56 L1158.61,612.10 L1159.43,612.64 L1160.25,613.18 L1161.07,613.72 L1161.89,614.26 L1162.71,614.80 L1163.53,615.35 L1164.16,615.77 M1178.98,626.12 L1179.58,626.56 L1180.37,627.13 L1181.16,627.71 L1181.94,628.29 L1182.73,628.86 L1183.51,629.44 L1184.29,630.03 L1185.07,630.61 L1185.85,631.19 L1186.63,631.78 L1187.40,632.36 L1188.17,632.95 L1188.95,633.54 L1189.72,634.13 L1190.49,634.72 L1191.26,635.32 L1192.02,635.91 L1192.17,636.02 M1206.25,647.34 L1206.34,647.41 L1207.08,648.03 L1207.82,648.64 L1208.56,649.26 L1209.29,649.88 L1210.03,650.50 L1210.76,651.12 L1211.50,651.75 L1212.23,652.37 L1212.96,652.99 L1213.69,653.62 L1214.42,654.25 L1215.15,654.87 L1215.88,655.50 L1216.60,656.13 L1217.32,656.76 L1218.05,657.39 L1218.77,658.03 L1218.80,658.05 M1232.23,670.15 L1232.29,670.21 L1233.00,670.86 L1233.70,671.52 L1234.40,672.17 L1235.10,672.82 L1235.79,673.47 L1236.49,674.13 L1237.19,674.78 L1237.88,675.44 L1238.58,676.09 L1239.27,676.75 L1239.97,677.41 L1240.66,678.07 L1241.35,678.73 L1242.04,679.39 L1242.73,680.05 L1243.42,680.71 L1244.11,681.37 L1244.22,681.48 M1257.11,694.14 L1257.72,694.75 L1258.39,695.42 L1259.06,696.10 L1259.73,696.77 L1260.41,697.45 L1261.08,698.13 L1261.75,698.81 L1262.42,699.48 L1263.09,700.16 L1263.75,700.84 L1264.42,701.52 L1265.09,702.20 L1265.76,702.88 L1266.42,703.57 L1267.09,704.25 L1267.76,704.93 L1268.42,705.61 L1268.69,705.89 M1281.22,718.92 L1281.63,719.35 L1282.28,720.04 L1282.94,720.73 L1283.60,721.42 L1284.25,722.11 L1284.91,722.81 L1285.56,723.50 L1286.22,724.19 L1286.87,724.88 L1287.52,725.58 L1288.18,726.27 L1288.83,726.96 L1289.49,727.66 L1290.14,728.35 L1290.79,729.04 L1291.44,729.74 L1292.10,730.43 L1292.55,730.91 M1304.89,744.11 L1305.12,744.35 L1305.77,745.05 L1306.42,745.75 L1307.07,746.44 L1307.72,747.14 L1308.37,747.84 L1309.02,748.54 L1309.67,749.23 L1310.32,749.93 L1310.97,750.63 L1311.62,751.32 L1312.27,752.02 L1312.92,752.72 L1313.57,753.42 L1314.22,754.11 L1314.87,754.81 L1315.52,755.51 L1316.15,756.18 M1328.51,769.36 L1328.57,769.43 L1329.23,770.12 L1329.88,770.82 L1330.54,771.51 L1331.19,772.21 L1331.85,772.90 L1332.50,773.59 L1333.16,774.29 L1333.82,774.98 L1334.47,775.67 L1335.13,776.37 L1335.79,777.06 L1336.45,777.75 L1337.11,778.44 L1337.77,779.13 L1338.42,779.82 L1339.08,780.52 L1339.74,781.21 L1339.86,781.33 M1352.39,794.35 L1353.00,794.98 L1353.66,795.67 L1354.33,796.35 L1354.99,797.04 L1355.66,797.73 L1356.33,798.41 L1356.99,799.10 L1357.66,799.78 L1358.33,800.47 L1358.99,801.15 L1359.66,801.84 L1360.33,802.52 L1361.00,803.21 L1361.67,803.89 L1362.34,804.57 L1363.00,805.26 L1363.67,805.94 L1363.90,806.17 M1376.57,819.05 L1377.10,819.58 L1377.77,820.26 L1378.44,820.94 L1379.12,821.62 L1379.79,822.30 L1380.46,822.98 L1381.14,823.66 L1381.81,824.34 L1382.49,825.02 L1383.16,825.70 L1383.84,826.38 L1384.51,827.06 L1385.19,827.74 L1385.86,828.41 L1386.54,829.09 L1387.21,829.77 L1387.89,830.45 L1388.20,830.76 M1400.98,843.54 L1401.42,843.99 L1402.10,844.66 L1402.78,845.34 L1403.46,846.01 L1404.13,846.69 L1404.81,847.36 L1405.49,848.04 L1406.17,848.72 L1406.85,849.39 L1407.53,850.06 L1408.21,850.74 L1408.88,851.41 L1409.56,852.09 L1410.24,852.76 L1410.92,853.44 L1411.60,854.11 L1412.28,854.79 L1412.67,855.18 M1425.51,867.90 L1425.87,868.26 L1426.55,868.93 L1427.23,869.60 L1427.91,870.27 L1428.58,870.95 L1429.26,871.62 L1429.94,872.29 L1430.62,872.96 L1431.30,873.64 L1431.98,874.31 L1432.66,874.98 L1433.34,875.65 L1434.02,876.33 L1434.70,877.00 L1435.38,877.67 L1436.06,878.34 L1436.74,879.01 L1437.24,879.50 M1450.08,892.21 L1450.32,892.45 L1451.00,893.12" fill="none" stroke="#0500eb" stroke-width="7.4" stroke-linejoin="round"/>
<path d="M241.00,118.62 L242.73,121.94 L244.47,125.24 L246.21,128.55 L247.96,131.86 L249.70,135.16 L251.45,138.47 L253.20,141.77 L254.96,145.07 L256.72,148.37 L258.48,151.66 L260.24,154.96 L262.00,158.26 L263.77,161.55 L265.54,164.84 L267.31,168.13 L269.09,171.42 L270.86,174.71 L272.64,178.00 L274.42,181.29 L276.20,184.58 L277.99,187.86 L279.77,191.15 L281.56,194.43 L283.35,197.71 L285.14,201.00 L286.93,204.28 L288.72,207.56 L290.52,210.84 L292.31,214.12 L294.11,217.40 L295.91,220.67 L297.71,223.95 L299.51,227.23 L301.31,230.50 L303.11,233.78 L304.92,237.06 L306.72,240.33 L308.53,243.61 L310.33,246.88 L312.14,250.16 L313.95,253.43 L315.75,256.70 L317.56,259.98 L319.37,263.25 L321.18,266.52 L322.98,269.80 L324.79,273.07 L326.60,276.34 L328.41,279.62 L330.22,282.89 L332.03,286.17 L333.83,289.44 L335.64,292.71 L337.45,295.99 L339.26,299.26 L341.06,302.54 L342.87,305.81 L344.67,309.09 L346.48,312.36 L348.28,315.64 L350.08,318.91 L351.89,322.19 L353.69,325.47 L355.49,328.75 L357.29,332.02 L359.09,335.30 L360.88,338.58 L362.68,341.86 L364.47,345.14 L366.27,348.43 L368.06,351.71 L369.85,354.99 L371.64,358.28 L373.42,361.56 L375.21,364.85 L376.99,368.14 L378.77,371.42 L380.55,374.71 L382.33,378.00 L384.11,381.29 L385.89,384.58 L387.66,387.87 L389.43,391.17 L391.21,394.46 L392.98,397.75 L394.76,401.04 L396.53,404.34 L398.30,407.63 L400.08,410.92 L401.85,414.21 L403.63,417.50 L405.41,420.79 L407.19,424.08 L408.97,427.37 L410.75,430.66 L412.54,433.95 L414.32,437.23 L416.11,440.52 L417.90,443.80 L419.70,447.08 L421.49,450.37 L423.30,453.64 L425.10,456.92 L426.91,460.20 L428.72,463.47 L430.54,466.74 L432.36,470.01 L434.18,473.28 L436.01,476.54 L437.84,479.80 L439.68,483.06 L441.53,486.32 L443.38,489.57 L445.23,492.83 L447.09,496.07 L448.96,499.32 L450.84,502.56 L452.72,505.80 L454.60,509.03 L456.50,512.26 L458.40,515.49 L460.31,518.72 L462.22,521.94 L464.15,525.15 L466.08,528.36 L468.02,531.57 L469.97,534.78 L471.93,537.97 L473.89,541.17 L475.87,544.36 L477.85,547.54 L479.85,550.72 L481.85,553.90 L483.86,557.07 L485.89,560.23 L487.93,563.39 L489.97,566.54 L492.04,569.68 L494.11,572.81 L496.20,575.94 L498.30,579.05 L500.41,582.16 L502.55,585.26 L504.69,588.35 L506.85,591.42 L509.03,594.49 L511.23,597.55 L513.44,600.59 L515.67,603.62 L517.92,606.64 L520.18,609.65 L522.47,612.64 L524.77,615.62 L527.10,618.59 L529.45,621.54 L531.81,624.48 L534.20,627.40 L536.61,630.31 L539.05,633.20 L541.50,636.07 L543.98,638.93 L546.49,641.76 L549.01,644.59 L551.57,647.39 L554.15,650.17 L556.75,652.94 L559.38,655.69 L562.04,658.41 L564.72,661.12 L567.44,663.80 L570.18,666.47 L572.95,669.11 L575.75,671.73 L578.58,674.33 L581.43,676.91 L584.32,679.47 L587.24,682.00 L590.18,684.51 L593.14,687.00 L596.14,689.46 L599.15,691.91 L602.19,694.33 L605.25,696.73 L608.33,699.12 L611.42,701.48 L614.54,703.82 L617.68,706.13 L620.83,708.43 L623.99,710.71 L627.17,712.97 L630.36,715.21 L633.57,717.42 L636.79,719.61 L640.03,721.77 L643.29,723.90 L646.58,726.00 L649.88,728.05 L653.21,730.07 L656.56,732.04 L659.94,733.96 L663.35,735.84 L666.79,737.66 L670.26,739.42 L673.76,741.13 L677.30,742.79 L680.86,744.39 L684.45,745.94 L688.07,747.44 L691.71,748.89 L695.38,750.29 L699.07,751.65 L702.78,752.96 L706.51,754.22 L710.26,755.44 L714.03,756.62 L717.82,757.76 L721.63,758.85 L725.45,759.91 L729.28,760.93 L733.12,761.91 L736.98,762.86 L740.85,763.78 L744.73,764.66 L748.61,765.50 L752.50,766.32 L756.41,767.11 L760.32,767.86 L764.23,768.59 L768.16,769.29 L772.09,769.96 L776.03,770.61 L779.97,771.23 L783.92,771.82 L787.88,772.39 L791.84,772.94 L795.80,773.46 L799.77,773.97 L803.74,774.45 L807.72,774.91 L811.70,775.36 L815.68,775.78 L819.67,776.19 L823.66,776.58 L827.64,776.96 L831.64,777.32 L835.63,777.67 L839.62,778.00 L843.62,778.32 L847.61,778.63 L851.61,778.92 L855.61,779.21 L859.61,779.48 L863.60,779.75 L867.60,780.00 L871.61,780.25 L875.61,780.48 L879.61,780.71 L883.61,780.93 L887.61,781.15 L891.62,781.36 L895.62,781.56 L899.63,781.76 L903.63,781.95 L907.63,782.14 L911.64,782.33 L915.64,782.51 L919.64,782.70 L923.65,782.88 L927.65,783.06 L931.66,783.24 L935.66,783.41 L939.66,783.59 L943.66,783.78 L947.66,783.96 L951.66,784.14 L955.66,784.33 L959.66,784.53 L963.66,784.72 L967.66,784.92 L971.65,785.13 L975.65,785.34 L979.64,785.56 L983.64,785.79 L987.63,786.02 L991.62,786.26 L995.61,786.51 L999.59,786.77 L1003.58,787.04 L1007.56,787.32 L1011.55,787.61 L1015.53,787.92 L1019.51,788.23 L1023.49,788.56 L1027.46,788.90 L1031.43,789.26 L1035.41,789.62 L1039.37,790.01 L1043.34,790.41 L1047.31,790.83 L1051.27,791.26 L1055.23,791.71 L1059.19,792.18 L1063.14,792.67 L1067.10,793.17 L1071.05,793.70 L1074.99,794.24 L1078.94,794.80 L1082.88,795.38 L1086.82,795.98 L1090.75,796.59 L1094.69,797.22 L1098.62,797.87 L1102.54,798.54 L1106.47,799.23 L1110.39,799.93 L1114.31,800.65 L1118.22,801.38 L1122.13,802.14 L1126.04,802.91 L1129.94,803.70 L1133.84,804.50 L1137.74,805.32 L1141.63,806.16 L1145.52,807.01 L1149.41,807.88 L1153.29,808.76 L1157.17,809.67 L1161.05,810.58 L1164.92,811.52 L1168.78,812.46 L1172.65,813.43 L1176.50,814.41 L1180.36,815.40 L1184.21,816.41 L1188.05,817.44 L1191.90,818.48 L1195.73,819.53 L1199.57,820.60 L1203.39,821.68 L1207.22,822.78 L1211.04,823.89 L1214.85,825.02 L1218.66,826.16 L1222.47,827.32 L1226.27,828.49 L1230.06,829.67 L1233.85,830.87 L1237.64,832.08 L1241.42,833.30 L1245.20,834.54 L1248.97,835.79 L1252.73,837.05 L1256.49,838.32 L1260.25,839.61 L1264.00,840.91 L1267.75,842.21 L1271.49,843.52 L1275.24,844.84 L1278.98,846.17 L1282.71,847.50 L1286.45,848.83 L1290.18,850.17 L1293.91,851.50 L1297.65,852.84 L1301.38,854.17 L1305.11,855.50 L1308.85,856.83 L1312.58,858.16 L1316.32,859.47 L1320.05,860.78 L1323.79,862.09 L1327.53,863.38 L1331.28,864.66 L1335.03,865.93 L1338.78,867.19 L1342.54,868.44 L1346.30,869.67 L1350.06,870.88 L1353.83,872.08 L1357.61,873.26 L1361.39,874.42 L1365.18,875.56 L1368.98,876.67 L1372.78,877.77 L1376.60,878.84 L1380.42,879.88 L1384.24,880.90 L1388.08,881.89 L1391.93,882.86 L1395.78,883.79 L1399.65,884.69 L1403.53,885.56 L1407.41,886.40 L1411.31,887.21 L1415.22,887.97 L1419.14,888.71 L1423.08,889.40 L1427.03,890.06 L1430.99,890.67 L1434.96,891.25 L1438.95,891.78 L1442.95,892.27 L1446.97,892.72 L1451.00,893.12" fill="none" stroke="#05f514" stroke-width="7.4" stroke-linejoin="round" stroke-linecap="round"/>
<path d="M240.98,118.63 L242.88,121.88 L244.77,125.14 L246.65,128.40 L248.53,131.66 L250.40,134.92 L252.27,138.18 L254.13,141.44 L255.99,144.71 L257.85,147.97 L259.70,151.24 L261.55,154.51 L263.39,157.78 L265.23,161.05 L267.06,164.32 L268.89,167.60 L270.72,170.87 L272.54,174.15 L274.36,177.42 L276.18,180.70 L277.99,183.98 L279.80,187.26 L281.60,190.54 L283.41,193.82 L285.21,197.10 L287.00,200.38 L288.80,203.67 L290.59,206.95 L292.38,210.23 L294.16,213.52 L295.95,216.81 L297.73,220.09 L299.50,223.38 L301.28,226.67 L303.06,229.96 L304.83,233.25 L306.60,236.54 L308.37,239.83 L310.13,243.12 L311.90,246.41 L313.66,249.70 L315.42,252.99 L317.18,256.28 L318.94,259.57 L320.70,262.86 L322.46,266.16 L324.22,269.45 L325.97,272.74 L327.73,276.03 L329.48,279.33 L331.23,282.62 L332.99,285.91 L334.74,289.20 L336.49,292.50 L338.24,295.79 L339.99,299.08 L341.75,302.37 L343.50,305.67 L345.25,308.96 L347.00,312.25 L348.76,315.54 L350.51,318.83 L352.26,322.12 L354.02,325.41 L355.77,328.70 L357.53,331.99 L359.29,335.28 L361.04,338.57 L362.80,341.86 L364.56,345.15 L366.32,348.43 L368.09,351.72 L369.85,355.01 L371.62,358.29 L373.38,361.58 L375.15,364.86 L376.93,368.14 L378.70,371.43 L380.47,374.71 L382.25,377.99 L384.03,381.27 L385.81,384.55 L387.60,387.82 L389.39,391.10 L391.18,394.38 L392.97,397.65 L394.76,400.93 L396.56,404.20 L398.36,407.47 L400.17,410.74 L401.97,414.01 L403.79,417.28 L405.60,420.54 L407.42,423.81 L409.24,427.07 L411.06,430.34 L412.89,433.60 L414.72,436.86 L416.56,440.12 L418.40,443.37 L420.25,446.63 L422.10,449.88 L423.95,453.14 L425.81,456.39 L427.67,459.64 L429.54,462.89 L431.41,466.13 L433.28,469.38 L435.17,472.62 L437.05,475.86 L438.94,479.10 L440.84,482.34 L442.74,485.57 L444.65,488.81 L446.56,492.04 L448.48,495.27 L450.40,498.49 L452.33,501.72 L454.27,504.94 L456.21,508.17 L458.16,511.39 L460.11,514.60 L462.07,517.82 L464.04,521.03 L466.01,524.24 L467.99,527.45 L469.98,530.66 L471.97,533.86 L473.97,537.06 L475.98,540.26 L477.99,543.46 L480.01,546.65 L482.04,549.84 L484.07,553.03 L486.12,556.22 L488.17,559.40 L490.24,562.57 L492.31,565.74 L494.40,568.90 L496.49,572.05 L498.60,575.20 L500.73,578.34 L502.86,581.47 L505.01,584.59 L507.17,587.70 L509.35,590.80 L511.55,593.89 L513.76,596.97 L515.98,600.03 L518.23,603.09 L520.49,606.13 L522.77,609.15 L525.07,612.16 L527.38,615.16 L529.72,618.14 L532.08,621.10 L534.46,624.05 L536.87,626.98 L539.29,629.89 L541.74,632.78 L544.21,635.65 L546.70,638.51 L549.22,641.34 L551.77,644.15 L554.34,646.94 L556.93,649.71 L559.56,652.46 L562.21,655.18 L564.89,657.88 L567.60,660.55 L570.33,663.20 L573.10,665.83 L575.90,668.42 L578.72,670.99 L581.58,673.54 L584.47,676.05 L587.39,678.54 L590.34,681.00 L593.32,683.43 L596.33,685.83 L599.37,688.20 L602.44,690.53 L605.53,692.84 L608.66,695.12 L611.81,697.36 L614.99,699.57 L618.19,701.75 L621.42,703.89 L624.68,706.00 L627.96,708.08 L631.27,710.12 L634.60,712.12 L637.96,714.09 L641.34,716.02 L644.75,717.92 L648.18,719.78 L651.63,721.60 L655.11,723.38 L658.61,725.12 L662.13,726.82 L665.67,728.49 L669.23,730.11 L672.82,731.69 L676.42,733.23 L680.04,734.74 L683.69,736.20 L687.35,737.63 L691.03,739.01 L694.73,740.36 L698.44,741.68 L702.17,742.96 L705.92,744.20 L709.69,745.40 L713.46,746.57 L717.26,747.71 L721.06,748.81 L724.88,749.88 L728.72,750.91 L732.56,751.91 L736.42,752.88 L740.29,753.82 L744.17,754.73 L748.06,755.60 L751.96,756.45 L755.87,757.26 L759.79,758.05 L763.71,758.81 L767.65,759.53 L771.59,760.23 L775.54,760.91 L779.49,761.55 L783.45,762.17 L787.41,762.76 L791.38,763.33 L795.35,763.87 L799.33,764.39 L803.31,764.88 L807.29,765.35 L811.28,765.79 L815.26,766.22 L819.25,766.62 L823.25,767.00 L827.24,767.36 L831.24,767.70 L835.24,768.02 L839.24,768.33 L843.24,768.62 L847.24,768.89 L851.25,769.15 L855.25,769.39 L859.26,769.62 L863.27,769.83 L867.28,770.03 L871.30,770.22 L875.31,770.40 L879.32,770.57 L883.34,770.73 L887.36,770.87 L891.37,771.02 L895.39,771.15 L899.41,771.27 L903.42,771.39 L907.44,771.51 L911.46,771.62 L915.48,771.73 L919.50,771.83 L923.51,771.93 L927.53,772.03 L931.55,772.13 L935.56,772.23 L939.58,772.32 L943.59,772.42 L947.61,772.53 L951.62,772.63 L955.63,772.74 L959.65,772.85 L963.65,772.97 L967.66,773.09 L971.67,773.22 L975.68,773.35 L979.68,773.50 L983.68,773.65 L987.68,773.81 L991.68,773.98 L995.68,774.17 L999.67,774.36 L1003.66,774.57 L1007.65,774.78 L1011.64,775.02 L1015.62,775.26 L1019.60,775.53 L1023.58,775.80 L1027.56,776.10 L1031.53,776.41 L1035.50,776.74 L1039.47,777.09 L1043.43,777.46 L1047.39,777.85 L1051.34,778.26 L1055.30,778.69 L1059.25,779.14 L1063.19,779.62 L1067.13,780.12 L1071.07,780.65 L1075.00,781.20 L1078.93,781.77 L1082.86,782.37 L1086.78,783.00 L1090.69,783.65 L1094.61,784.32 L1098.51,785.01 L1102.42,785.73 L1106.32,786.47 L1110.21,787.23 L1114.11,788.01 L1117.99,788.82 L1121.88,789.64 L1125.76,790.49 L1129.63,791.35 L1133.50,792.24 L1137.37,793.15 L1141.23,794.07 L1145.09,795.01 L1148.95,795.98 L1152.80,796.96 L1156.64,797.96 L1160.49,798.97 L1164.33,800.01 L1168.16,801.06 L1171.99,802.12 L1175.82,803.20 L1179.64,804.30 L1183.46,805.42 L1187.27,806.54 L1191.08,807.69 L1194.89,808.85 L1198.69,810.02 L1202.49,811.20 L1206.28,812.40 L1210.07,813.61 L1213.85,814.84 L1217.64,816.07 L1221.41,817.32 L1225.19,818.58 L1228.96,819.85 L1232.72,821.14 L1236.48,822.43 L1240.24,823.73 L1243.99,825.04 L1247.74,826.37 L1251.48,827.70 L1255.23,829.04 L1258.96,830.39 L1262.70,831.74 L1266.43,833.10 L1270.15,834.47 L1273.88,835.84 L1277.60,837.22 L1281.32,838.60 L1285.04,839.98 L1288.76,841.37 L1292.47,842.76 L1296.19,844.15 L1299.90,845.54 L1303.62,846.92 L1307.33,848.31 L1311.04,849.70 L1314.76,851.08 L1318.47,852.46 L1322.19,853.83 L1325.90,855.20 L1329.62,856.57 L1333.34,857.93 L1337.06,859.28 L1340.79,860.62 L1344.51,861.96 L1348.24,863.29 L1351.98,864.60 L1355.71,865.91 L1359.45,867.21 L1363.19,868.49 L1366.94,869.76 L1370.69,871.02 L1374.45,872.26 L1378.21,873.49 L1381.98,874.71 L1385.75,875.91 L1389.53,877.09 L1393.32,878.25 L1397.11,879.40 L1400.90,880.52 L1404.71,881.63 L1408.52,882.72 L1412.34,883.78 L1416.16,884.83 L1420.00,885.85 L1423.84,886.84 L1427.69,887.82 L1431.55,888.77 L1435.42,889.69 L1439.30,890.59 L1443.19,891.46 L1447.09,892.31 L1451.00,893.12" fill="none" stroke="#ea0a0a" stroke-width="7.4" stroke-linejoin="round" stroke-linecap="round"/>
<path d="M240.99,118.63 L242.88,121.85 L244.77,125.08 L246.65,128.31 L248.53,131.55 L250.41,134.78 L252.29,138.01 L254.17,141.25 L256.04,144.49 L257.92,147.73 L259.79,150.97 L261.66,154.21 L263.52,157.45 L265.39,160.70 L267.25,163.94 L269.12,167.19 L270.98,170.44 L272.83,173.69 L274.69,176.94 L276.55,180.19 L278.40,183.44 L280.25,186.70 L282.10,189.95 L283.95,193.21 L285.79,196.47 L287.64,199.72 L289.48,202.98 L291.32,206.24 L293.16,209.51 L295.00,212.77 L296.84,216.03 L298.67,219.30 L300.50,222.56 L302.33,225.83 L304.16,229.10 L305.99,232.37 L307.82,235.64 L309.64,238.91 L311.46,242.18 L313.28,245.45 L315.10,248.72 L316.92,251.99 L318.74,255.27 L320.55,258.54 L322.36,261.82 L324.17,265.10 L325.98,268.37 L327.79,271.65 L329.60,274.93 L331.40,278.21 L333.20,281.49 L335.01,284.77 L336.80,288.05 L338.60,291.33 L340.40,294.61 L342.19,297.89 L343.99,301.18 L345.78,304.46 L347.57,307.75 L349.36,311.03 L351.15,314.31 L352.93,317.60 L354.72,320.88 L356.50,324.17 L358.28,327.46 L360.06,330.74 L361.84,334.03 L363.61,337.32 L365.39,340.61 L367.16,343.89 L368.93,347.18 L370.71,350.47 L372.48,353.76 L374.25,357.04 L376.02,360.33 L377.78,363.62 L379.55,366.91 L381.32,370.19 L383.09,373.48 L384.86,376.76 L386.64,380.05 L388.41,383.33 L390.18,386.62 L391.96,389.90 L393.74,393.18 L395.52,396.46 L397.30,399.74 L399.09,403.02 L400.87,406.29 L402.67,409.57 L404.46,412.84 L406.26,416.11 L408.06,419.38 L409.86,422.65 L411.67,425.91 L413.49,429.18 L415.31,432.44 L417.13,435.70 L418.96,438.95 L420.79,442.21 L422.63,445.46 L424.48,448.71 L426.33,451.96 L428.19,455.20 L430.05,458.44 L431.92,461.68 L433.80,464.92 L435.68,468.15 L437.57,471.38 L439.47,474.60 L441.38,477.83 L443.30,481.05 L445.22,484.26 L447.15,487.47 L449.09,490.68 L451.04,493.89 L453.00,497.09 L454.97,500.28 L456.95,503.48 L458.94,506.67 L460.94,509.85 L462.94,513.03 L464.96,516.20 L466.99,519.38 L469.03,522.54 L471.09,525.70 L473.15,528.86 L475.23,532.01 L477.31,535.16 L479.41,538.30 L481.53,541.43 L483.65,544.55 L485.79,547.67 L487.95,550.78 L490.11,553.88 L492.30,556.97 L494.49,560.06 L496.70,563.13 L498.93,566.19 L501.17,569.25 L503.43,572.29 L505.71,575.32 L508.00,578.34 L510.31,581.34 L512.64,584.34 L514.98,587.32 L517.34,590.28 L519.72,593.24 L522.12,596.17 L524.54,599.10 L526.97,602.01 L529.43,604.90 L531.91,607.77 L534.40,610.63 L536.92,613.48 L539.46,616.30 L542.02,619.11 L544.60,621.90 L547.20,624.67 L549.82,627.42 L552.47,630.16 L555.14,632.87 L557.83,635.56 L560.54,638.23 L563.28,640.88 L566.05,643.51 L568.83,646.12 L571.65,648.70 L574.48,651.26 L577.35,653.80 L580.23,656.31 L583.15,658.80 L586.09,661.27 L589.05,663.71 L592.05,666.12 L595.07,668.51 L598.12,670.87 L601.19,673.21 L604.30,675.51 L607.43,677.78 L610.59,680.03 L613.79,682.24 L617.01,684.41 L620.26,686.56 L623.54,688.67 L626.85,690.74 L630.20,692.77 L633.57,694.77 L636.98,696.73 L640.42,698.64 L643.90,700.52 L647.40,702.35 L650.94,704.14 L654.50,705.87 L658.10,707.55 L661.73,709.17 L665.38,710.74 L669.07,712.24 L672.77,713.68 L676.50,715.05 L680.25,716.36 L684.01,717.61 L687.79,718.80 L691.57,719.93 L695.37,721.00 L699.18,722.01 L703.00,722.97 L706.83,723.88 L710.67,724.73 L714.53,725.54 L718.39,726.29 L722.26,726.99 L726.14,727.65 L730.03,728.26 L733.93,728.82 L737.84,729.35 L741.76,729.83 L745.69,730.27 L749.62,730.67 L753.56,731.04 L757.51,731.36 L761.46,731.66 L765.43,731.92 L769.39,732.14 L773.37,732.34 L777.35,732.50 L781.33,732.64 L785.32,732.75 L789.32,732.84 L793.32,732.90 L797.32,732.93 L801.33,732.95 L805.34,732.95 L809.36,732.92 L813.38,732.88 L817.40,732.82 L821.43,732.75 L825.45,732.67 L829.48,732.57 L833.51,732.46 L837.54,732.34 L841.58,732.21 L845.61,732.08 L849.64,731.94 L853.68,731.80 L857.71,731.65 L861.75,731.51 L865.78,731.36 L869.82,731.21 L873.85,731.06 L877.88,730.92 L881.91,730.77 L885.94,730.63 L889.97,730.49 L894.00,730.36 L898.03,730.23 L902.05,730.10 L906.08,729.98 L910.10,729.87 L914.12,729.76 L918.15,729.66 L922.17,729.56 L926.18,729.48 L930.20,729.40 L934.21,729.33 L938.23,729.28 L942.24,729.23 L946.25,729.19 L950.25,729.17 L954.26,729.16 L958.26,729.16 L962.26,729.18 L966.26,729.21 L970.26,729.25 L974.25,729.31 L978.24,729.38 L982.23,729.47 L986.22,729.58 L990.20,729.71 L994.18,729.85 L998.16,730.01 L1002.13,730.19 L1006.11,730.40 L1010.07,730.62 L1014.04,730.86 L1018.00,731.13 L1021.96,731.41 L1025.92,731.72 L1029.87,732.06 L1033.82,732.41 L1037.77,732.79 L1041.71,733.20 L1045.65,733.63 L1049.58,734.09 L1053.51,734.58 L1057.44,735.09 L1061.36,735.63 L1065.28,736.20 L1069.19,736.80 L1073.10,737.42 L1077.01,738.08 L1080.91,738.77 L1084.81,739.49 L1088.70,740.24 L1092.59,741.03 L1096.47,741.84 L1100.35,742.68 L1104.22,743.55 L1108.09,744.45 L1111.95,745.38 L1115.81,746.34 L1119.66,747.33 L1123.50,748.34 L1127.34,749.38 L1131.16,750.45 L1134.99,751.55 L1138.80,752.67 L1142.61,753.82 L1146.41,755.00 L1150.20,756.20 L1153.99,757.42 L1157.77,758.67 L1161.54,759.95 L1165.30,761.25 L1169.05,762.57 L1172.79,763.92 L1176.53,765.29 L1180.25,766.68 L1183.97,768.09 L1187.67,769.53 L1191.37,770.99 L1195.05,772.47 L1198.73,773.97 L1202.39,775.50 L1206.05,777.04 L1209.69,778.60 L1213.33,780.19 L1216.95,781.79 L1220.56,783.41 L1224.16,785.05 L1227.75,786.71 L1231.32,788.39 L1234.89,790.08 L1238.44,791.79 L1241.98,793.52 L1245.50,795.27 L1249.02,797.03 L1252.52,798.81 L1256.01,800.61 L1259.48,802.41 L1262.95,804.23 L1266.41,806.07 L1269.86,807.91 L1273.30,809.76 L1276.73,811.61 L1280.16,813.48 L1283.59,815.34 L1287.01,817.21 L1290.43,819.09 L1293.85,820.96 L1297.27,822.84 L1300.68,824.71 L1304.10,826.58 L1307.52,828.44 L1310.95,830.30 L1314.38,832.15 L1317.81,833.99 L1321.25,835.83 L1324.70,837.65 L1328.16,839.46 L1331.62,841.26 L1335.10,843.04 L1338.58,844.81 L1342.08,846.56 L1345.59,848.29 L1349.12,850.00 L1352.66,851.69 L1356.22,853.36 L1359.79,855.01 L1363.38,856.63 L1366.99,858.22 L1370.62,859.79 L1374.27,861.32 L1377.94,862.84 L1381.62,864.33 L1385.31,865.81 L1389.02,867.27 L1392.73,868.72 L1396.44,870.16 L1400.16,871.60 L1403.88,873.03 L1407.59,874.47 L1411.30,875.92 L1415.00,877.37 L1418.69,878.84 L1422.37,880.32 L1426.03,881.82 L1429.67,883.34 L1433.30,884.88 L1436.89,886.46 L1440.47,888.07 L1444.01,889.71 L1447.52,891.39 L1451.00,893.12" fill="none" stroke="#0500eb" stroke-width="7.4" stroke-linejoin="round" stroke-linecap="round"/>
</g>
<path d="M442.7,46.3 V52.9 M442.7,61.0 V67.6 M442.7,75.7 V82.3 M442.7,90.4 V97.0 M442.7,105.1 V111.7 M442.7,119.8 V126.4 M442.7,134.5 V141.1 M442.7,149.2 V155.8 M442.7,163.9 V170.5 M442.7,332.0 V338.6 M442.7,346.7 V353.3 M442.7,361.4 V368.0 M442.7,376.1 V382.7 M442.7,390.8 V397.4 M442.7,405.5 V412.1 M442.7,420.2 V426.8 M442.7,434.9 V441.5 M442.7,449.6 V456.2 M442.7,464.3 V470.9 M442.7,479.0 V485.6 M442.7,493.7 V500.3 M442.7,508.4 V515.0 M442.7,523.1 V529.7 M442.7,537.8 V544.4 M442.7,552.5 V559.1 M442.7,567.2 V573.8 M442.7,581.9 V588.5 M442.7,596.6 V603.2 M442.7,611.3 V617.9 M442.7,626.0 V632.6 M442.7,640.7 V647.3 M442.7,655.4 V662.0 M442.7,670.1 V676.7 M442.7,684.8 V691.4 M442.7,699.5 V706.1 M442.7,714.2 V720.8 M442.7,728.9 V735.5 M442.7,743.6 V750.2 M442.7,758.3 V764.9 M442.7,773.0 V779.6 M442.7,787.7 V794.3 M442.7,802.4 V809.0 M442.7,817.1 V823.7 M442.7,831.8 V838.4 M442.7,846.5 V853.1 M442.7,861.2 V867.8 M442.7,875.9 V882.5 M442.7,890.6 V895.0 M846.2,46.0 V49.0 M846.2,57.2 V63.8 M846.2,72.0 V78.5 M846.2,86.7 V93.3 M846.2,101.5 V108.0 M846.2,116.2 V122.8 M846.2,130.9 V137.6 M846.2,145.7 V152.3 M846.2,160.4 V167.1 M846.2,329.0 V335.5 M846.2,343.6 V350.2 M846.2,358.3 V364.9 M846.2,373.1 V379.7 M846.2,387.8 V394.4 M846.2,402.5 V409.1 M846.2,417.2 V423.8 M846.2,431.9 V438.5 M846.2,446.7 V453.3 M846.2,461.4 V468.0 M846.2,476.1 V482.7 M846.2,490.8 V497.4 M846.2,505.5 V512.1 M846.2,520.3 V526.9 M846.2,535.0 V541.6 M846.2,549.7 V556.3 M846.2,564.4 V571.0 M846.2,579.1 V585.7 M846.2,593.9 V600.5 M846.2,608.6 V615.2 M846.2,623.3 V629.9 M846.2,638.0 V644.6 M846.2,652.7 V659.3 M846.2,667.5 V674.1 M846.2,682.2 V688.8 M846.2,696.9 V703.5 M846.2,711.6 V718.2 M846.2,726.3 V732.9 M846.2,741.1 V747.7 M846.2,755.8 V762.4 M846.2,770.5 V777.1 M846.2,785.2 V791.8 M846.2,799.9 V806.5 M846.2,814.7 V821.3 M846.2,829.4 V836.0 M846.2,844.1 V850.7 M846.2,858.8 V865.4 M846.2,873.5 V880.1 M846.2,888.3 V894.9 M846.2,903.0 V909.6 M846.2,917.7 V924.3 M846.2,932.4 V939.0 M846.2,947.1 V953.7 M846.2,961.9 V968.5 M846.2,976.6 V983.2 M846.2,991.3 V997.9 M846.2,1006.0 V1012.6 M1249.5,46.0 V50.7 M1249.5,58.7 V65.3 M1249.5,73.3 V79.9 M1249.5,87.9 V94.5 M1249.5,102.5 V109.1 M1249.5,117.1 V123.7 M1249.5,131.7 V138.3 M1249.5,146.3 V152.5 M1249.5,529.0 V532.3 M1249.5,540.3 V546.9 M1249.5,554.9 V561.5 M1249.5,569.5 V576.1 M1249.5,584.1 V590.7 M1249.5,598.7 V605.3 M1249.5,613.3 V619.9 M1249.5,627.9 V634.5 M1249.5,642.5 V649.1 M1249.5,657.1 V663.7 M1249.5,671.7 V678.3 M1249.5,686.3 V692.9 M1249.5,700.9 V707.5 M1249.5,715.5 V722.1 M1249.5,730.1 V736.7 M1249.5,744.7 V751.3 M1249.5,759.3 V765.9 M1249.5,773.9 V780.5 M1249.5,788.5 V795.1 M1249.5,803.1 V809.7 M1249.5,817.7 V824.3 M1249.5,832.3 V838.9 M1249.5,846.9 V853.5 M1249.5,861.5 V868.1 M1249.5,876.1 V882.7 M1249.5,890.7 V897.3 M1249.5,905.3 V911.9 M1249.5,919.9 V926.5 M1249.5,934.5 V941.1 M1249.5,949.1 V955.7 M1249.5,963.7 V970.3 M1249.5,978.3 V984.9 M1249.5,992.9 V999.5 M1249.5,1007.5 V1014.1" stroke="#000" stroke-width="2.5" fill="none"/>
<path d="M238.35,44.40 H1454.15 M238.35,1017.70 H1454.15" stroke="#000" stroke-width="5.90" fill="none"/>
<path d="M241.00,41.45 V1020.65 M1451.50,41.45 V1020.65" stroke="#000" stroke-width="5.30" fill="none"/>
<path d="M281.35,44.40 v13.5 M281.35,1017.70 v-13.5 M321.70,44.40 v13.5 M321.70,1017.70 v-13.5 M362.05,44.40 v13.5 M362.05,1017.70 v-13.5 M402.40,44.40 v13.5 M402.40,1017.70 v-13.5 M442.75,44.40 v22 M442.75,1017.70 v-22 M483.10,44.40 v13.5 M483.10,1017.70 v-13.5 M523.45,44.40 v13.5 M523.45,1017.70 v-13.5 M563.80,44.40 v13.5 M563.80,1017.70 v-13.5 M604.15,44.40 v13.5 M604.15,1017.70 v-13.5 M644.50,44.40 v22 M644.50,1017.70 v-22 M684.85,44.40 v13.5 M684.85,1017.70 v-13.5 M725.20,44.40 v13.5 M725.20,1017.70 v-13.5 M765.55,44.40 v13.5 M765.55,1017.70 v-13.5 M805.90,44.40 v13.5 M805.90,1017.70 v-13.5 M846.25,44.40 v22 M846.25,1017.70 v-22 M886.60,44.40 v13.5 M886.60,1017.70 v-13.5 M926.95,44.40 v13.5 M926.95,1017.70 v-13.5 M967.30,44.40 v13.5 M967.30,1017.70 v-13.5 M1007.65,44.40 v13.5 M1007.65,1017.70 v-13.5 M1048.00,44.40 v22 M1048.00,1017.70 v-22 M1088.35,44.40 v13.5 M1088.35,1017.70 v-13.5 M1128.70,44.40 v13.5 M1128.70,1017.70 v-13.5 M1169.05,44.40 v13.5 M1169.05,1017.70 v-13.5 M1209.40,44.40 v13.5 M1209.40,1017.70 v-13.5 M1249.75,44.40 v22 M1249.75,1017.70 v-22 M1290.10,44.40 v13.5 M1290.10,1017.70 v-13.5 M1330.45,44.40 v13.5 M1330.45,1017.70 v-13.5 M1370.80,44.40 v13.5 M1370.80,1017.70 v-13.5 M1411.15,44.40 v13.5 M1411.15,1017.70 v-13.5" stroke="#000" stroke-width="5.0" fill="none"/>
<path d="M241.00,105.23 h13.5 M1451.50,105.23 h-13.5 M241.00,166.06 h13.5 M1451.50,166.06 h-13.5 M241.00,226.89 h13.5 M1451.50,226.89 h-13.5 M241.00,287.73 h25 M1451.50,287.73 h-25 M241.00,348.56 h13.5 M1451.50,348.56 h-13.5 M241.00,409.39 h13.5 M1451.50,409.39 h-13.5 M241.00,470.22 h13.5 M1451.50,470.22 h-13.5 M241.00,531.05 h25 M1451.50,531.05 h-25 M241.00,591.88 h13.5 M1451.50,591.88 h-13.5 M241.00,652.71 h13.5 M1451.50,652.71 h-13.5 M241.00,713.54 h13.5 M1451.50,713.54 h-13.5 M241.00,774.38 h25 M1451.50,774.38 h-25 M241.00,835.21 h13.5 M1451.50,835.21 h-13.5 M241.00,896.04 h13.5 M1451.50,896.04 h-13.5 M241.00,956.87 h13.5 M1451.50,956.87 h-13.5" stroke="#000" stroke-width="5.8" fill="none"/>
<path transform="translate(126.73,63.90) scale(65.800,-71.064)" d="M0.379,0 L0.242,0 L0.242,0.49 C0.19,0.445 0.13,0.42 0.067,0.405 L0.067,0.49 C0.16,0.525 0.232,0.6 0.27,0.69 L0.379,0.69 Z"/>
<text transform="translate(163.3,63.9) scale(1,1.080)" font-size="65.80">.0</text>
<text transform="translate(125.9,307.2) scale(1,1.080)" font-size="65.80">0.5</text>
<text transform="translate(126.7,550.6) scale(1,1.080)" font-size="65.80">0.0</text>
<text transform="translate(108.7,793.9) scale(0.92,0.918)" font-size="65.80">-</text>
<text transform="translate(125.9,793.9) scale(1,1.080)" font-size="65.80">0.5</text>
<text transform="translate(109.6,1037.2) scale(0.92,0.918)" font-size="65.80">-</text>
<path transform="translate(126.73,1037.20) scale(65.800,-71.064)" d="M0.379,0 L0.242,0 L0.242,0.49 C0.19,0.445 0.13,0.42 0.067,0.405 L0.067,0.49 C0.16,0.525 0.232,0.6 0.27,0.69 L0.379,0.69 Z"/>
<text transform="translate(163.3,1037.2) scale(1,1.080)" font-size="65.80">.0</text>
<text transform="translate(221.5,1091.2) scale(1,1.080)" font-size="64.80">0</text>
<text transform="translate(423.1,1091.2) scale(1,1.080)" font-size="64.80">5</text>
<path transform="translate(606.12,1091.20) scale(64.800,-69.984)" d="M0.379,0 L0.242,0 L0.242,0.49 C0.19,0.445 0.13,0.42 0.067,0.405 L0.067,0.49 C0.16,0.525 0.232,0.6 0.27,0.69 L0.379,0.69 Z"/>
<text transform="translate(642.2,1091.2) scale(1,1.080)" font-size="64.80">0</text>
<path transform="translate(807.44,1091.20) scale(64.800,-69.984)" d="M0.379,0 L0.242,0 L0.242,0.49 C0.19,0.445 0.13,0.42 0.067,0.405 L0.067,0.49 C0.16,0.525 0.232,0.6 0.27,0.69 L0.379,0.69 Z"/>
<text transform="translate(843.5,1091.2) scale(1,1.080)" font-size="64.80">5</text>
<text transform="translate(1010.7,1091.2) scale(1,1.080)" font-size="64.80">20</text>
<text transform="translate(1212.0,1091.2) scale(1,1.080)" font-size="64.80">25</text>
<text transform="translate(1414.5,1091.2) scale(1,1.080)" font-size="64.80">30</text>
<text transform="translate(318.5,1155.4) scale(1,1.080)" font-size="64.06">Position along the Channel, x (nm)</text>
<text transform="translate(66.1,864) rotate(-90) scale(1.066,1)" font-size="64.4">Surface Potential (V)</text>
<text transform="translate(443.8,232.0) scale(1,1.080)" font-size="53.75">Dot - Off State</text>
<text transform="translate(444.7,306.4) scale(1,1.080)" font-size="53.75">Solid - On State</text>
<text transform="translate(269.2,948.0) scale(1,1.090)" font-size="64.50">V</text>
<text transform="translate(312.8,967.3) scale(1,1.100)" font-size="42.60" style="font-weight:normal" stroke="#000" stroke-width="1.1">DD</text>
<text transform="translate(392.3,941.6) scale(1,0.980)" font-size="66.00">=</text>
<text transform="translate(450.1,947.3) scale(1,1.090)" font-size="64.50">-0.5V</text>
<path d="M452.8,115.0 H577 M644,115.0 H836.2 M856.2,115.0 H990.5 M1058.3,115.0 H1239.8" stroke="#000" stroke-width="2.5" fill="none"/>
<path d="M443.15,116.00 L469.65,101.00 L470.35,102.80 L463.65,114.70 L463.65,117.30 L470.35,129.20 L469.65,131.00 Z M845.65,116.00 L819.15,101.00 L818.45,102.80 L825.15,114.70 L825.15,117.30 L818.45,129.20 L819.15,131.00 Z M846.65,116.00 L873.15,101.00 L873.85,102.80 L867.15,114.70 L867.15,117.30 L873.85,129.20 L873.15,131.00 Z M1249.45,116.00 L1222.95,101.00 L1222.25,102.80 L1228.95,114.70 L1228.95,117.30 L1222.25,129.20 L1222.95,131.00 Z" fill="#000"/>
<path d="M587.60,116.80 a13.40,14.40 0 1,0 26.80,0 a13.40,14.40 0 1,0 -26.80,0 Z M593.60,116.80 a7.40,10.60 0 1,0 14.80,0 a7.40,10.60 0 1,0 -14.80,0 Z" fill="#000" fill-rule="evenodd"/>
<line x1="601.0" y1="91.2" x2="601.0" y2="140.0" stroke="#000" stroke-width="3.6"/>
<text transform="translate(617.0,145.6) scale(1,1.240)" font-size="29.00" style="font-weight:normal" stroke="#000" stroke-width="0.9">S</text>
<path d="M998.70,116.50 a13.60,14.20 0 1,0 27.20,0 a13.60,14.20 0 1,0 -27.20,0 Z M1004.80,116.50 a7.50,10.30 0 1,0 15.00,0 a7.50,10.30 0 1,0 -15.00,0 Z" fill="#000" fill-rule="evenodd"/>
<line x1="1012.3" y1="92.2" x2="1012.3" y2="140.1" stroke="#000" stroke-width="3.6"/>
<text transform="translate(1026.0,142.3) scale(1,1.060)" font-size="33.80" style="font-weight:normal" stroke="#000" stroke-width="0.9">D</text>
<path d="M1127.3,185 L1106.3,230 L1145.7,230 Z M1125.8,197 L1112.3,225.5 L1136.8,225.5 Z" fill="#000" fill-rule="evenodd"/>
<path d="M1146.90,213.20 a15.40,16.90 0 1,0 30.80,0 a15.40,16.90 0 1,0 -30.80,0 Z M1153.70,213.20 a8.60,12.90 0 1,0 17.20,0 a8.60,12.90 0 1,0 -17.20,0 Z" fill="#000" fill-rule="evenodd"/>
<line x1="1161.1" y1="183.5" x2="1161.1" y2="242.4" stroke="#000" stroke-width="4.8"/>
<text transform="translate(1179.6,248.8) scale(1,1.120)" font-size="41.20" style="font-weight:normal" stroke="#000" stroke-width="0.8">S-D</text>
<text transform="translate(1268.7,228.8) scale(1,1.070)" font-size="64.30">(eV)</text>
<line x1="1102" y1="307.8" x2="1256" y2="307.8" stroke="#05f514" stroke-width="7.6"/>
<line x1="1102" y1="397.1" x2="1256" y2="397.1" stroke="#ea0a0a" stroke-width="7.6"/>
<line x1="1102" y1="482.3" x2="1256" y2="482.3" stroke="#0500eb" stroke-width="7.6"/>
<text transform="translate(1269.1,331.5) scale(1,1.080)" font-size="65.80">0.6</text>
<path transform="translate(1360.57,331.50) scale(65.800,-71.064)" d="M0.379,0 L0.242,0 L0.242,0.49 C0.19,0.445 0.13,0.42 0.067,0.405 L0.067,0.49 C0.16,0.525 0.232,0.6 0.27,0.69 L0.379,0.69 Z"/>
<text transform="translate(1269.1,418.5) scale(1,1.080)" font-size="65.80">0.7</text>
<path transform="translate(1267.29,505.50) scale(65.800,-71.064)" d="M0.379,0 L0.242,0 L0.242,0.49 C0.19,0.445 0.13,0.42 0.067,0.405 L0.067,0.49 C0.16,0.525 0.232,0.6 0.27,0.69 L0.379,0.69 Z"/>
<text transform="translate(1303.9,505.5) scale(1,1.080)" font-size="65.80">.02</text>
</svg></div></body></html>
